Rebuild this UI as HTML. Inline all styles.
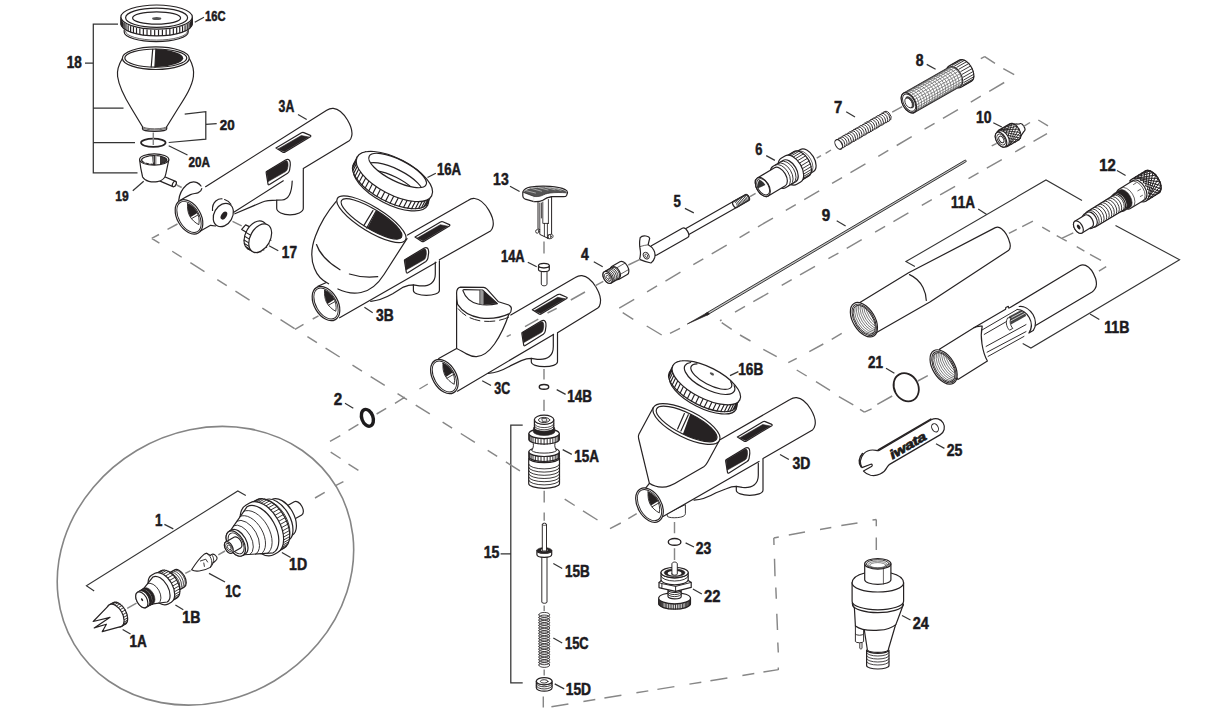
<!DOCTYPE html>
<html lang="en"><head><meta charset="utf-8"><title>Airbrush parts diagram</title>
<style>
html,body{margin:0;padding:0;background:#fff;}
body{width:1214px;height:720px;overflow:hidden;}
svg{display:block;}
text{font-family:"Liberation Sans",sans-serif;font-weight:bold;font-size:15.7px;fill:#1c1a20;stroke:#1c1a20;stroke-width:0.5px;stroke-linejoin:round;}
.l{fill:none;stroke:#262223;stroke-width:1.2;stroke-linecap:round;stroke-linejoin:round;}
.w{fill:#fff;stroke:#262223;stroke-width:1.2;stroke-linecap:round;stroke-linejoin:round;}
.t{fill:none;stroke:#262223;stroke-width:0.7;stroke-linecap:round;stroke-linejoin:round;}
.k{fill:#262223;stroke:#262223;stroke-width:0.6;stroke-linejoin:round;}
.kk{fill:#262223;stroke:none;}
.b{fill:none;stroke:#333;stroke-width:1.25;stroke-linecap:butt;stroke-linejoin:miter;}
.ld{fill:none;stroke:#333;stroke-width:1.2;stroke-linecap:butt;}
.d{fill:none;stroke:#878787;stroke-width:1.45;stroke-linecap:butt;}
.c{fill:none;stroke:#858585;stroke-width:1.6;}
</style></head>
<body>
<svg width="1214" height="720" viewBox="0 0 1214 720">
<rect width="1214" height="720" fill="#fff"/>
<g id="p16c">
<path class="w" d="M124.2,30 L124.2,32 A32,9.6 0 0 0 188.2,32 L188.2,30"/>
<path class="t" d="M125.5,31.5 A31,8.6 0 0 0 187.5,31.5"/>
<path class="w" d="M120.9,17.3 L120.9,23.8 A35.7,12.1 0 0 0 192.3,23.8 L192.3,17.3 Z"/>
<path class="l" d="M192.1,19.46L192.1,24.66M191.49,20.76L191.49,25.96M190.47,22.03L190.47,27.23M189.04,23.25L189.04,28.45M187.24,24.41L187.24,29.61M185.07,25.5L185.07,30.7M182.57,26.5L182.57,31.7M179.76,27.41L179.76,32.61M176.68,28.21L176.68,33.41M173.36,28.88L173.36,34.08M169.84,29.44L169.84,34.64M166.17,29.86L166.17,35.06M162.39,30.14L162.39,35.34M158.54,30.28L158.54,35.48M154.66,30.28L154.66,35.48M150.81,30.14L150.81,35.34M147.03,29.86L147.03,35.06M143.36,29.44L143.36,34.64M139.84,28.88L139.84,34.08M136.52,28.21L136.52,33.41M133.44,27.41L133.44,32.61M130.63,26.5L130.63,31.7M128.13,25.5L128.13,30.7M125.96,24.41L125.96,29.61M124.16,23.25L124.16,28.45M122.73,22.03L122.73,27.23M121.71,20.76L121.71,25.96M121.1,19.46L121.1,24.66"/>
<ellipse class="w" cx="156.6" cy="17.1" rx="35.7" ry="12.1"/>
<ellipse class="l" cx="156.6" cy="17.7" rx="31" ry="9.6"/>
<ellipse class="l" cx="156.6" cy="18" rx="24" ry="6.1"/>
<ellipse class="kk" cx="156.7" cy="18.4" rx="4.6" ry="1.5" style="fill:#555"/>
</g>
<g id="p18">
<path class="w" d="M122.5,58.2 C119,64 116.6,70 117.6,76.5 C119,87 125,98 131.5,108.5 L142.5,126.7 L142.5,129 A12.1,2.3 0 0 0 166.7,129 L166.7,126.7 L178,108.5 C185,97.5 192,87 193.4,76.5 C194.3,70 192.5,64 189.2,58.2"/>
<path class="t" d="M142.5,126.7 A12.1,2.1 0 0 0 166.7,126.7"/>
<path class="t" d="M142.6,128 A12.1,2.2 0 0 0 166.6,128"/>
<ellipse class="w" cx="155.8" cy="58.2" rx="33.4" ry="11.3"/>
<path class="kk" d="M155.9,49.1 A31,9.1 0 0 1 154.9,67.2 Z"/>
<ellipse class="l" cx="155.8" cy="58.1" rx="31" ry="9.1"/>
<line class="l" x1="152.7" y1="49.3" x2="151.2" y2="67"/>
<line class="l" x1="155.9" y1="49.1" x2="154.9" y2="67.2"/>
</g>
<ellipse class="l" cx="153.3" cy="142.8" rx="12.3" ry="4.1" style="stroke-width:1.7"/>
<g id="p19">
<path class="w" d="M162.2,175.8 L175.6,181.4 A1.7,2.9 28 0 1 173,186.6 L159.5,180.9 Z"/>
<ellipse class="w" cx="174.3" cy="184" rx="1.7" ry="2.9" transform="rotate(28 174.3 184)"/>
<path class="w" d="M139.6,159.8 C140.2,166 141.4,172 142.6,177 C145,181.5 152,182.6 157.5,181.6 C162.5,180.6 165.3,177.5 165.8,174 L168.8,159.8"/>
<ellipse class="w" cx="154.2" cy="159.5" rx="14.6" ry="5.6"/>
<path class="kk" d="M152.01,155.77 A12.6,4.3 0 1 1 153.1,164.28 Z" style="fill:#3a3637"/>
<ellipse class="l" cx="154.2" cy="160" rx="12.6" ry="4.3"/>
<path class="t" d="M145,163 L145.6,160.5 M150,157 L150,163.8 M156,156 L156,164" style="stroke:#fff;stroke-width:1"/>
<path class="kk" d="M156.5,156.2 L156.5,164.2 L160,164 L160,156.4 Z" style="fill:#fff"/>
</g>
<path class="b" d="M118,24 L93.3,24 L93.3,172.8 L137.5,172.8 M93.3,108 L123.5,108 M93.3,142.5 L135,142.5 M85,63 L93.3,63"/>
<path class="b" d="M184.7,114.2 L205.8,111.7 L205.8,139.2 L168.7,142.5 M205.8,124.4 L216.7,123.6"/>
<g id="p3a">
<path class="w" d="M303.3,166 L303.3,208.3 C303.3,212 297,214.8 290,214.8 C283,214.8 276.7,212 276.7,208.3 L276.7,196 L283,178 Z" style="stroke:none"/>
<path class="l" d="M303.3,168.6 L303.3,208.3 C303.3,212 297,214.8 290,214.8 C283,214.8 276.7,212 276.7,208.3 L276.7,200.2"/>
<path class="w" d="M205.6,186.7 L326.7,110.3 C329,108.8 331,108.2 333.3,108.4 C338,108.8 343.5,113.5 347.5,120 C351,126 352.6,132 351.7,136 C351.2,138.5 350.3,140 349.2,140.8 L304.2,168.3 L283.3,180.8 L234,211.7 L202,232 L180,203 L186,186 L198,181 Z" style="stroke:none"/>
<path class="l" d="M205.6,186.7 L326.7,110.3 C329,108.8 331,108.2 333.3,108.4 C338,108.8 343.5,113.5 347.5,120 C351,126 352.6,132 351.7,136 C351.2,138.5 350.3,140 349.2,140.8 L303.3,168.6"/>
<path class="l" d="M234.8,213.8 L262,202.2 C266,200.6 270,200.2 276.7,200.2 L282,200 C288.5,199.6 291.8,193 292.2,181"/>
<g transform="translate(0 0)">
<path class="w" d="M276,147.9 L301.5,132.8 Q302.6,132.2 303.8,132.6 L310.4,135.4 Q311.4,136 310.4,136.7 L284.8,152.2 Q283.8,152.8 282.8,152.2 Z"/>
<path class="k" d="M278.2,148.9 L301.3,135.5 L308.8,137 L284.3,151.7 Z"/>
</g>
<g transform="translate(0 0)">
<path class="w" d="M266.5,171.5 L285.5,160 Q288,158.6 289.5,160.3 Q290.6,162 290.3,165 L289.6,170 Q289.3,172 287.6,173.2 L269.5,184.6 Q268.3,185.3 268,184 L266.2,173 Q266,172 266.5,171.5 Z"/>
<path class="k" d="M266.7,171.6 L285,161 Q287,160 287.7,162 Q288.2,164 288,166 L287.4,169 Q287,170.8 285.6,171.6 L267.8,181.8 Z"/>
</g>
<g transform="translate(189 216.9)">
<ellipse class="w" cx="0" cy="0" rx="18.6" ry="11.8" transform="rotate(60 0 0)"/>
<ellipse class="l" cx="0" cy="0" rx="16.9" ry="10.1" transform="rotate(60 0 0)" style="stroke-width:0.9"/>
<path class="w" d="M-1.4,-13.2 C1.5,-12.6 5,-9.6 7.4,-5.8 C9.6,-2 10.8,2.8 9.8,7.8 C6,5.8 2.6,2.6 0.6,-1 C-1.2,-4.6 -1.8,-9 -1.4,-13.2 Z" style="stroke-width:0.9"/>
<path class="kk" d="M-1.4,-13.2 C1.5,-12.6 5,-9.6 7.4,-5.8 L8.4,-3.9 L1.5,0.4 C-0.6,-3.6 -1.8,-8.5 -1.4,-13.2 Z"/>
<path class="t" d="M2.6,1.7 L8.9,-1.9" style="stroke-width:0.9"/>
</g>
<path class="l" d="M178.7,200.6 C179.3,194.5 182,189 186.5,185 C189.8,182 193.5,181 197,182.6 C198.8,183.5 200.2,184.8 201,186"/>
<path class="l" d="M180.8,200 C184,198 187.5,196 190.5,194.6 C193.5,193.4 196.3,193.6 198.3,192.6 C200.5,191.4 201.6,190 201.8,188.6"/>
<path class="l" d="M212.5,210.5 C212.2,206.5 213.2,203.3 215.8,201 C218,199.2 220,198.6 222,198.8"/>
<path class="l" d="M224.6,199.5 C227.3,200.4 229.5,202 230.9,204.3"/>
<ellipse class="w" cx="223.3" cy="215" rx="12.4" ry="9.2" transform="rotate(-60 223.3 215)"/>
<ellipse class="kk" cx="223.9" cy="215.6" rx="4.4" ry="2.7" transform="rotate(-58 223.9 215.6)"/>
<path class="l" d="M200.5,231 L210.6,225.3 L215.5,226"/>
<path class="l" d="M233.8,212.2 L283.3,180.8"/>
</g>
<g id="p17">
<path class="w" d="M241.7,229.4 L245.6,224.9 L251.5,227.6 L248.5,233.6 Z"/>
<ellipse class="w" cx="255.6" cy="235.3" rx="15.6" ry="10" transform="rotate(-61 255.6 235.3)"/>
<path class="t" d="M265.73,237.21l5.2,3.1M263.89,240.93l5.2,3.1M261.47,244.26l5.2,3.1M258.62,246.95l5.2,3.1M255.56,248.81l5.2,3.1M252.51,249.71l5.2,3.1M249.67,249.58l5.2,3.1M247.26,248.43l5.2,3.1M245.44,246.36l5.2,3.1M244.34,243.49l5.2,3.1M244.05,240.04l5.2,3.1M244.57,236.25l5.2,3.1M245.89,232.4l5.2,3.1" style="stroke-width:1.05"/>
<ellipse class="w" cx="260.2" cy="238.2" rx="15.4" ry="9.9" transform="rotate(-61 260.2 238.2)"/>
</g>
<g id="p16a">
<ellipse class="w" cx="391" cy="186.2" rx="41.37" ry="17.73" transform="rotate(27.5 391 186.2)"/>
<ellipse class="w" cx="390.7" cy="183.6" rx="42" ry="18" transform="rotate(27.5 390.7 183.6)"/>
<path class="t" d="M429.65,198.37l-3.7,7.1M427.65,199.69l-3.7,7.1M425.18,200.67l-3.7,7.1M422.28,201.31l-3.7,7.1M418.98,201.6l-3.7,7.1M415.33,201.54l-3.7,7.1M411.39,201.11l-3.7,7.1M407.2,200.34l-3.7,7.1M402.83,199.23l-3.7,7.1M398.34,197.79l-3.7,7.1M393.79,196.06l-3.7,7.1M389.26,194.04l-3.7,7.1M384.79,191.78l-3.7,7.1M380.47,189.3l-3.7,7.1M376.34,186.64l-3.7,7.1M372.46,183.83l-3.7,7.1M368.9,180.92l-3.7,7.1M365.7,177.94l-3.7,7.1M362.91,174.95l-3.7,7.1M360.57,171.98l-3.7,7.1M358.71,169.07l-3.7,7.1M357.35,166.27l-3.7,7.1M356.52,163.61l-3.7,7.1M356.23,161.14l-3.7,7.1M356.48,158.88l-3.7,7.1M357.27,156.88l-3.7,7.1M358.59,155.15l-3.7,7.1M360.41,153.73l-3.7,7.1M362.72,152.63l-3.7,7.1M365.48,151.87l-3.7,7.1M368.65,151.46l-3.7,7.1" style="stroke-width:1.15"/>
<ellipse class="w" cx="394.4" cy="176.5" rx="42" ry="18" transform="rotate(27.5 394.4 176.5)"/>
<clipPath id="c16a"><ellipse cx="397.6" cy="170.5" rx="31.8" ry="10.8" transform="rotate(26.6 397.6 170.5)"/></clipPath>
<g clip-path="url(#c16a)">
<ellipse class="l" cx="394.4" cy="179.6" rx="31.4" ry="10.6" transform="rotate(26.6 394.4 179.6)"/>
<ellipse class="l" cx="391.6" cy="186.2" rx="29.5" ry="10" transform="rotate(26.6 391.6 186.2)"/>
</g>
<ellipse class="l" cx="397.6" cy="170.5" rx="31.8" ry="10.8" transform="rotate(26.6 397.6 170.5)"/>
</g>
<g id="p3b">
<path class="w" d="M439.4,257.8 L439.4,290.4 C439.4,293.4 433.4,295.4 426.4,295.4 C419.4,295.4 413.4,293.4 413.4,290.4 L413.4,278.8 L431.3,260 Z" style="stroke:none"/>
<path class="l" d="M439.4,260.8 L439.4,290.4 C439.4,293.4 433.4,295.4 426.4,295.4 C419.4,295.4 413.4,293.4 413.4,290.4 L413.4,284.8"/>
<path class="w" d="M407.5,235 L468,200.4 C470.3,198.9 472.3,198.3 474.6,198.5 C479.3,198.9 484.8,203.6 488.8,210.1 C492.3,216.1 493.9,222.1 493,226.1 C492.5,228.6 491.6,230.1 490.5,230.9  L439.4,259.8 L339.6,317.3 L312,300 L320,284 Z" style="stroke:none"/>
<path class="l" d="M407.5,235 L468,200.4 C470.3,198.9 472.3,198.3 474.6,198.5 C479.3,198.9 484.8,203.6 488.8,210.1 C492.3,216.1 493.9,222.1 493,226.1 C492.5,228.6 491.6,230.1 490.5,230.9  L439.4,259.8"/>
<path class="l" d="M339.6,317.8 L436,262.4"/>
<path class="l" d="M370.7,301.3 C378.7,300.8 384.7,298.3 392.7,293.8 L403.4,287.1 C407.4,285.4 410.4,284.8 413.4,284.8 L419.4,285.8 C430.3,286.8 435.3,281.8 435.3,274 L435.3,262"/>
<g transform="translate(139 89.2)">
<path class="w" d="M276,147.9 L301.5,132.8 Q302.6,132.2 303.8,132.6 L310.4,135.4 Q311.4,136 310.4,136.7 L284.8,152.2 Q283.8,152.8 282.8,152.2 Z"/>
<path class="k" d="M278.2,148.9 L301.3,135.5 L308.8,137 L284.3,151.7 Z"/>
</g>
<g transform="translate(138.3 88.2)">
<path class="w" d="M266.5,171.5 L285.5,160 Q288,158.6 289.5,160.3 Q290.6,162 290.3,165 L289.6,170 Q289.3,172 287.6,173.2 L269.5,184.6 Q268.3,185.3 268,184 L266.2,173 Q266,172 266.5,171.5 Z"/>
<path class="k" d="M266.7,171.6 L285,161 Q287,160 287.7,162 Q288.2,164 288,166 L287.4,169 Q287,170.8 285.6,171.6 L267.8,181.8 Z"/>
</g>
<path class="w" d="M336,201.7 C328,211 320,224 315.5,236 C311,248 310.5,259 314.5,268.5 C317,275 322,280.5 328.6,283.8 L317.7,286.2 L330,300 L337.9,289 C345,292.5 353,294 361,292.5 C370,290.8 378,284 384,274.5 L407,238.6 Z" style="stroke:none"/>
<path class="l" d="M336,201.7 C328,211 320,224 315.5,236 C311,248 310.5,259 314.5,268.5 C317,275 322,280.5 328.6,283.8"/>
<path class="l" d="M317.9,286.3 L325.8,282.7"/>
<path class="l" d="M337.9,289 C345,292.5 353,294 361,292.5 C370,290.8 378,284 384,274.5 L407,238.6"/>
<path class="l" d="M316.5,244.5 C319,252 327,262 340,269.8 M349.4,274 C358,276.8 368,277.6 377.7,276.6"/>
<ellipse class="w" cx="371.4" cy="219.2" rx="39.9" ry="12.3" transform="rotate(31.5 371.4 219.2)"/>
<path class="kk" d="M376.62,210.54 A35.2,9.8 31.5 0 1 367.43,227.89 Z"/>
<ellipse class="l" cx="371.5" cy="218.9" rx="35.2" ry="9.8" transform="rotate(31.5 371.5 218.9)"/>
<path class="l" d="M375.8,211.6 L366.7,228 M372.9,210.6 L363.8,225.6"/>
<g transform="translate(326 303.5)">
<ellipse class="w" cx="0" cy="0" rx="18.6" ry="11.8" transform="rotate(60 0 0)"/>
<ellipse class="l" cx="0" cy="0" rx="16.9" ry="10.1" transform="rotate(60 0 0)" style="stroke-width:0.9"/>
<path class="w" d="M-1.4,-13.2 C1.5,-12.6 5,-9.6 7.4,-5.8 C9.6,-2 10.8,2.8 9.8,7.8 C6,5.8 2.6,2.6 0.6,-1 C-1.2,-4.6 -1.8,-9 -1.4,-13.2 Z" style="stroke-width:0.9"/>
<path class="kk" d="M-1.4,-13.2 C1.5,-12.6 5,-9.6 7.4,-5.8 L8.4,-3.9 L1.5,0.4 C-0.6,-3.6 -1.8,-8.5 -1.4,-13.2 Z"/>
<path class="t" d="M2.6,1.7 L8.9,-1.9" style="stroke-width:0.9"/>
</g>
</g>
<g id="p3c">
<path class="w" d="M557.5,329.4 L557.5,361.7 C557.5,364.7 551.5,366.7 544.4,366.7 C537.3,366.7 531.3,364.7 531.3,361.7 L531.3,352.3 L549.3,332 Z" style="stroke:none"/>
<path class="l" d="M557.5,332.4 L557.5,361.7 C557.5,364.7 551.5,366.7 544.4,366.7 C537.3,366.7 531.3,364.7 531.3,361.7 L531.3,358.3"/>
<path class="w" d="M500,320 L510.8,315 L575.3,277.6 C577.6,276.1 579.6,275.5 581.9,275.7 C586.6,276.1 592.1,280.8 596.1,287.3 C599.6,293.3 601.2,299.3 600.3,303.3 C599.8,305.8 598.9,307.3 597.8,308.1  L557.5,332.8 L458.4,390.9 L430,372 L440,356 Z" style="stroke:none"/>
<path class="l" d="M510.8,315 L575.3,277.6 C577.6,276.1 579.6,275.5 581.9,275.7 C586.6,276.1 592.1,280.8 596.1,287.3 C599.6,293.3 601.2,299.3 600.3,303.3 C599.8,305.8 598.9,307.3 597.8,308.1  L557.5,332.8"/>
<path class="l" d="M457.4,391.2 L553.5,334.4"/>
<path class="l" d="M488.2,373.4 C496.2,372.9 502.2,370.4 510.2,365.9 L521.3,360.6 C525.3,358.9 528.3,358.3 531.3,358.3 L537.3,359.3 C548.3,360.3 553.3,355.3 553.3,346.4 L553.3,334.4"/>
<g transform="translate(256.3 161.8)">
<path class="w" d="M276,147.9 L301.5,132.8 Q302.6,132.2 303.8,132.6 L310.4,135.4 Q311.4,136 310.4,136.7 L284.8,152.2 Q283.8,152.8 282.8,152.2 Z"/>
<path class="k" d="M278.2,148.9 L301.3,135.5 L308.8,137 L284.3,151.7 Z"/>
</g>
<g transform="translate(255.7 161)">
<path class="w" d="M266.5,171.5 L285.5,160 Q288,158.6 289.5,160.3 Q290.6,162 290.3,165 L289.6,170 Q289.3,172 287.6,173.2 L269.5,184.6 Q268.3,185.3 268,184 L266.2,173 Q266,172 266.5,171.5 Z"/>
<path class="k" d="M266.7,171.6 L285,161 Q287,160 287.7,162 Q288.2,164 288,166 L287.4,169 Q287,170.8 285.6,171.6 L267.8,181.8 Z"/>
</g>
<path class="w" d="M456.6,293.5 L456.6,348.5 L438.5,358.6 L452,372 L466.5,353.9 C470,355.8 473,356.8 476.5,356.6 C483,356.2 489.5,351 494.5,344 C500,336 505,326 508.9,314 L508,300 L484,287 L460,287 Z" style="stroke:none"/>
<path class="l" d="M456.6,296 L456.6,348.5 L438.7,358.5"/>
<path class="l" d="M456.6,348.5 C460,350 463,352.2 466.5,353.9 C470,355.8 473,356.8 476.5,356.6 C483,356.2 489.5,351 494.5,344 C500,336 505,326 508.9,314"/>
<path class="l" d="M458,308.5 C463,314.8 470,319 480,320.8 C490,322.4 500.5,321 509,317" style="stroke-dasharray:11 4;stroke-width:1;stroke-linecap:butt"/>
<path class="w" d="M456.6,293.5 C456.5,290 458,287.6 460.5,287.1 L483.5,287.4 C485,287.5 486,288.2 487,289.2 L498.5,301.8 L508,304.8 C510.5,305.6 511.6,307.3 511.3,309.2 C511.2,311.5 510.6,312.8 509.5,313.6 C500,318 490,319.4 480,317.8 C470,316 462,311 457.6,304.3 C456.8,301 456.6,297 456.6,293.5 Z"/>
<path class="w" d="M462.9,290.6 C462.9,289.9 463.3,289.7 464,289.7 L482.5,290 L497.4,303.6 C491,305.2 484,305.4 478,304 C471,302.3 465.5,298 462.9,290.6 Z"/>
<path class="k" d="M483.4,290.8 L497.2,303.5 L483.4,304.6 Z"/>
<path class="kk" d="M479.8,290.3 L479.8,304.2 L483.4,304.6 L483.4,290.8 Z" style="fill:#9a9a9a"/>
<path class="t" d="M479.8,290.3 L479.8,304.2"/>
<g transform="translate(444.4 376.5)">
<ellipse class="w" cx="0" cy="0" rx="18.6" ry="11.8" transform="rotate(60 0 0)"/>
<ellipse class="l" cx="0" cy="0" rx="16.9" ry="10.1" transform="rotate(60 0 0)" style="stroke-width:0.9"/>
<path class="w" d="M-1.4,-13.2 C1.5,-12.6 5,-9.6 7.4,-5.8 C9.6,-2 10.8,2.8 9.8,7.8 C6,5.8 2.6,2.6 0.6,-1 C-1.2,-4.6 -1.8,-9 -1.4,-13.2 Z" style="stroke-width:0.9"/>
<path class="kk" d="M-1.4,-13.2 C1.5,-12.6 5,-9.6 7.4,-5.8 L8.4,-3.9 L1.5,0.4 C-0.6,-3.6 -1.8,-8.5 -1.4,-13.2 Z"/>
<path class="t" d="M2.6,1.7 L8.9,-1.9" style="stroke-width:0.9"/>
</g>
</g>
<g id="p16b">
<ellipse class="w" cx="703.2" cy="392.3" rx="37.04" ry="15.37" transform="rotate(27 703.2 392.3)"/>
<ellipse class="w" cx="702.9" cy="389.7" rx="37.6" ry="15.6" transform="rotate(27 702.9 389.7)"/>
<path class="t" d="M738.06,402.02l-3.4,6.9M736.17,403.23l-3.4,6.9M733.8,404.11l-3.4,6.9M730.97,404.64l-3.4,6.9M727.75,404.81l-3.4,6.9M724.17,404.63l-3.4,6.9M720.3,404.09l-3.4,6.9M716.2,403.2l-3.4,6.9M711.95,401.98l-3.4,6.9M707.6,400.44l-3.4,6.9M703.23,398.62l-3.4,6.9M698.9,396.54l-3.4,6.9M694.7,394.24l-3.4,6.9M690.69,391.75l-3.4,6.9M686.94,389.11l-3.4,6.9M683.5,386.37l-3.4,6.9M680.43,383.57l-3.4,6.9M677.78,380.76l-3.4,6.9M675.6,377.99l-3.4,6.9M673.91,375.29l-3.4,6.9M672.76,372.71l-3.4,6.9M672.15,370.3l-3.4,6.9M672.1,368.09l-3.4,6.9M672.61,366.13l-3.4,6.9M673.67,364.43l-3.4,6.9M675.26,363.03l-3.4,6.9M677.35,361.96l-3.4,6.9M679.92,361.23l-3.4,6.9M682.92,360.84l-3.4,6.9" style="stroke-width:1.15"/>
<ellipse class="w" cx="706.3" cy="382.8" rx="37.6" ry="15.6" transform="rotate(27 706.3 382.8)"/>
<path class="l" d="M734.2,385.62 A27.8,11.2 27 1 1 690.69,362.48"/>
<path class="l" d="M730.69,381.65 A22.6,8.6 27 1 1 697.04,363.8"/>
<ellipse class="kk" cx="711.9" cy="373.9" rx="2.3" ry="1.2" transform="rotate(27 711.9 373.9)" style="fill:#555"/>
</g>
<g id="p3d">
<path class="w" d="M666.8,514 L667.6,516.6 C669,517.6 673,518 677.5,517.6 C682,517.2 685.2,516 685.4,513.6 L685.4,505 Z" style="stroke-width:0.9"/>
<path class="w" d="M763,456.2 L763,490.3 C763,493.3 757,495.3 749.65,495.3 C742.3,495.3 736.3,493.3 736.3,490.3 L736.3,480.4 L754.3,461.3 Z" style="stroke:none"/>
<path class="l" d="M763,459.2 L763,490.3 C763,493.3 757,495.3 749.65,495.3 C742.3,495.3 736.3,493.3 736.3,490.3 L736.3,486.4"/>
<path class="w" d="M718.3,440.8 L790,399.5 C792.3,398 794.3,397.4 796.6,397.6 C801.3,398 806.8,402.7 810.8,409.2 C814.3,415.2 815.9,421.2 815,425.2 C814.5,427.7 813.6,429.2 812.5,430  L763,458.6 L663,516.3 L635,500 L644,486 Z" style="stroke:none"/>
<path class="l" d="M718.3,440.8 L790,399.5 C792.3,398 794.3,397.4 796.6,397.6 C801.3,398 806.8,402.7 810.8,409.2 C814.3,415.2 815.9,421.2 815,425.2 C814.5,427.7 813.6,429.2 812.5,430  L763,458.6"/>
<path class="l" d="M663,516.6 L759,461.4"/>
<path class="l" d="M694.1,500.2 C702.1,499.7 708.1,497.2 716.1,492.7 L726.3,488.7 C730.3,487 733.3,486.4 736.3,486.4 L742.3,487.4 C753.3,488.4 758.3,483.4 758.3,475.3 L758.3,463.3"/>
<g transform="translate(461.4 289)">
<path class="w" d="M276,147.9 L301.5,132.8 Q302.6,132.2 303.8,132.6 L310.4,135.4 Q311.4,136 310.4,136.7 L284.8,152.2 Q283.8,152.8 282.8,152.2 Z"/>
<path class="k" d="M278.2,148.9 L301.3,135.5 L308.8,137 L284.3,151.7 Z"/>
</g>
<g transform="translate(459.5 288.3)">
<path class="w" d="M266.5,171.5 L285.5,160 Q288,158.6 289.5,160.3 Q290.6,162 290.3,165 L289.6,170 Q289.3,172 287.6,173.2 L269.5,184.6 Q268.3,185.3 268,184 L266.2,173 Q266,172 266.5,171.5 Z"/>
<path class="k" d="M266.7,171.6 L285,161 Q287,160 287.7,162 Q288.2,164 288,166 L287.4,169 Q287,170.8 285.6,171.6 L267.8,181.8 Z"/>
</g>
<path class="w" d="M653.3,407.5 L638.9,434.2 C638.2,435.6 638.2,437 638.6,438.5 L649.4,483.3 L645.5,488.3 L655,500 L662,487.2 C668,487.6 673,485 678.6,481.3 L703.8,466.8 C705.5,465.6 706.6,464 707.5,462.3 L719.4,440.5 Z" style="stroke:none"/>
<path class="l" d="M653.3,407.5 L638.9,434.2 C638.2,435.6 638.2,437 638.6,438.5 L649.4,483.3"/>
<path class="l" d="M645.6,488.2 L649.4,483.3 C653,485.8 657.5,487 662,487.2 C668,487.4 673,485 678.6,481.3 L703.8,466.8 C705.5,465.6 706.6,464 707.5,462.3 L719.2,440.8"/>
<ellipse class="w" cx="686.4" cy="424" rx="36.9" ry="13.4" transform="rotate(26.6 686.4 424)"/>
<path class="kk" d="M690.29,414 A33.6,10.6 26.6 0 1 682.91,434 Z"/>
<ellipse class="l" cx="686.6" cy="424" rx="33.6" ry="10.6" transform="rotate(26.6 686.6 424)"/>
<path class="l" d="M688.3,414.7 L680.9,431 M684.4,413.6 L677.6,429"/>
<g transform="translate(649.5 505.1)">
<ellipse class="w" cx="0" cy="0" rx="18.6" ry="11.8" transform="rotate(60 0 0)"/>
<ellipse class="l" cx="0" cy="0" rx="16.9" ry="10.1" transform="rotate(60 0 0)" style="stroke-width:0.9"/>
<path class="w" d="M-1.4,-13.2 C1.5,-12.6 5,-9.6 7.4,-5.8 C9.6,-2 10.8,2.8 9.8,7.8 C6,5.8 2.6,2.6 0.6,-1 C-1.2,-4.6 -1.8,-9 -1.4,-13.2 Z" style="stroke-width:0.9"/>
<path class="kk" d="M-1.4,-13.2 C1.5,-12.6 5,-9.6 7.4,-5.8 L8.4,-3.9 L1.5,0.4 C-0.6,-3.6 -1.8,-8.5 -1.4,-13.2 Z"/>
<path class="t" d="M2.6,1.7 L8.9,-1.9" style="stroke-width:0.9"/>
</g>
</g>
<g id="p12">
<path class="w" d="M1145.73,201.19 L1158.52,193.35 A13,7.54 58.5 0 0 1144.93,171.18 L1132.14,179.02 A13,7.54 58.5 0 0 1145.73,201.19 Z"/>
<path class="t" d="M1155.43,195.24L1160.17,191.59M1152.34,197.14L1161,188.92M1149.25,199.03L1160.92,185.59M1146.16,200.93L1159.94,181.94M1147.81,199.17L1158.16,178.33M1147.81,199.17L1149.25,199.03M1148.64,196.49L1155.74,175.09M1148.64,196.49L1152.34,197.14M1148.56,193.17L1152.94,172.56M1148.56,193.17L1155.43,195.24M1147.58,189.52L1150.01,170.98M1147.58,189.52L1158.52,193.35M1145.79,185.9L1147.25,170.51M1145.79,185.9L1160.17,191.59M1143.38,182.67L1144.93,171.18M1143.38,182.67L1161,188.92M1140.57,180.14L1141.84,173.07M1140.57,180.14L1160.92,185.59M1137.65,178.56L1138.75,174.97M1137.65,178.56L1159.94,181.94M1134.89,178.08L1135.66,176.86M1134.89,178.08L1158.16,178.33M1132.57,178.76L1155.74,175.09M1135.66,176.86L1152.94,172.56M1138.75,174.97L1150.01,170.98M1141.84,173.07L1147.25,170.51" style="stroke-width:1"/>
<path class="l" d="M1158.52,193.35 A13,7.54 58.5 0 0 1144.93,171.18"/>
<path class="w" d="M1130.29,208.53 L1144.79,199.65 A11.2,6.5 58.5 0 0 1133.09,180.55 L1118.59,189.44 A11.2,6.5 58.5 0 0 1130.29,208.53 Z"/>
<path class="t" d="M1143.08,200.7 A11.2,6.5 58.5 0 0 1131.38,181.6"/>
<path class="t" d="M1132.85,206.97 A11.2,6.5 58.5 0 0 1121.15,187.87"/>
<path class="t" d="M1133.5,184.5 l2.6,-1.6 M1137.8,190.8 l2.8,-1.6 M1129.5,180.6 l2,-1.2 M1140.3,196.5 l2.2,-1.2"/>
<path class="k" d="M1124.23,211.08 L1130.2,207.42 A10.2,5.92 58.5 0 0 1119.54,190.03 L1113.57,193.68 A10.2,5.92 58.5 0 0 1124.23,211.08 Z"/>
<path class="w" d="M1122,211.27 L1125.41,209.18 A9.2,5.34 58.5 0 0 1115.8,193.49 L1112.39,195.58 A9.2,5.34 58.5 0 0 1122,211.27 Z"/>
<path class="w" d="M1095.74,226.78 L1124.03,209.79 A9,5.22 58.5 0 0 1114.62,194.45 L1086.64,211.94 A8.7,5.05 58.5 0 0 1095.74,226.78 Z"/>
<path class="l" d="M1097.55,225.91 A8.9,5.16 58.5 0 0 1088.24,210.73 M1100.06,224.36 A8.9,5.16 58.5 0 0 1090.76,209.19 M1102.58,222.82 A8.9,5.16 58.5 0 0 1093.28,207.65 M1105.09,221.28 A8.9,5.16 58.5 0 0 1095.79,206.1 M1107.61,219.74 A8.9,5.16 58.5 0 0 1098.31,204.56 M1110.12,218.2 A8.9,5.16 58.5 0 0 1100.82,203.02 M1112.64,216.66 A8.9,5.16 58.5 0 0 1103.34,201.48 M1115.15,215.12 A8.9,5.16 58.5 0 0 1105.85,199.94 M1117.67,213.58 A8.9,5.16 58.5 0 0 1108.37,198.4 M1120.18,212.03 A8.9,5.16 58.5 0 0 1110.88,196.86 M1122.7,210.49 A8.9,5.16 58.5 0 0 1113.4,195.32 " style="stroke-width:0.9"/>
<path class="w" d="M1091.96,228.27 L1095.8,225.92 A8,4.64 58.5 0 0 1087.44,212.28 L1083.6,214.63 A8,4.64 58.5 0 0 1091.96,228.27 Z"/>
<path class="w" d="M1082.01,233.08 L1092.24,226.81 A6.9,4 58.5 0 0 1085.03,215.05 L1074.79,221.32 A6.9,4 58.5 0 0 1082.01,233.08 Z"/>
<ellipse class="w" cx="1078.4" cy="227.2" rx="6.9" ry="4" transform="rotate(58.5 1078.4 227.2)"/>
<ellipse class="kk" cx="1078.66" cy="227.04" rx="2.6" ry="1.51" transform="rotate(58.5 1078.66 227.04)"/>
</g>
<g id="p9">
<path class="w" d="M706,313.3 L964.8,160.3 C966,159.8 966.9,161.2 965.8,161.9 L707.2,315 Z" style="stroke-width:0.9;stroke:#222;fill:#c8c8c8"/>
<path class="k" d="M687.3,324 L708,312.2 L709.2,314.2 Z" style="stroke-width:0.7"/>
</g>
<g id="p11a">
<path class="w" d="M859.9,302.6 L908.6,272.8 L995.3,227.6 C997.5,226.6 999.5,227 1001.5,228.8 C1005,231.5 1008.5,237.5 1010,243.5 C1010.6,246.5 1010.2,248.8 1008.8,250.2 L930.3,301.7 L875.2,333.3 Z"/>
<path class="l" d="M909.5,274.6 C915,277 920,281.5 923,287.5 C925,291.5 926.2,296 926.3,300.5"/>
<ellipse class="w" cx="863.9" cy="319.7" rx="19" ry="10.9" transform="rotate(58.7 863.9 319.7)"/>
<ellipse class="l" cx="864.2" cy="319.9" rx="17.5" ry="9.5" transform="rotate(58.7 864.2 319.9)" style="stroke-width:0.9"/>
<clipPath id="tf1"><ellipse cx="864.3" cy="319.9" rx="16.4" ry="8.5" transform="rotate(58.7 864.3 319.9)"/></clipPath>
<g clip-path="url(#tf1)">
<ellipse class="t" cx="865.84" cy="318.97" rx="16.4" ry="8.5" transform="rotate(58.7 865.84 318.97)" style="stroke:#3a3a3a;stroke-width:0.6"/>
<ellipse class="t" cx="867.64" cy="317.89" rx="16.4" ry="8.5" transform="rotate(58.7 867.64 317.89)" style="stroke:#3a3a3a;stroke-width:0.6"/>
<ellipse class="t" cx="869.44" cy="316.81" rx="16.4" ry="8.5" transform="rotate(58.7 869.44 316.81)" style="stroke:#3a3a3a;stroke-width:0.6"/>
<ellipse class="t" cx="871.24" cy="315.73" rx="16.4" ry="8.5" transform="rotate(58.7 871.24 315.73)" style="stroke:#3a3a3a;stroke-width:0.6"/>
<ellipse class="t" cx="873.04" cy="314.65" rx="16.4" ry="8.5" transform="rotate(58.7 873.04 314.65)" style="stroke:#3a3a3a;stroke-width:0.6"/>
<ellipse class="t" cx="874.84" cy="313.57" rx="16.4" ry="8.5" transform="rotate(58.7 874.84 313.57)" style="stroke:#3a3a3a;stroke-width:0.6"/>
<ellipse class="t" cx="876.64" cy="312.48" rx="16.4" ry="8.5" transform="rotate(58.7 876.64 312.48)" style="stroke:#3a3a3a;stroke-width:0.6"/>
<ellipse class="t" cx="878.44" cy="311.4" rx="16.4" ry="8.5" transform="rotate(58.7 878.44 311.4)" style="stroke:#3a3a3a;stroke-width:0.6"/>
<ellipse class="t" cx="880.24" cy="310.32" rx="16.4" ry="8.5" transform="rotate(58.7 880.24 310.32)" style="stroke:#3a3a3a;stroke-width:0.6"/>
</g>
<ellipse class="t" cx="864.3" cy="319.9" rx="16.4" ry="8.5" transform="rotate(58.7 864.3 319.9)" style="stroke-width:0.8"/>
</g>
<g id="p11b">
<path class="w" d="M1008.5,308.5 L1079.5,265.7 C1081.5,264.6 1083.6,264.5 1085.6,265.4 C1089.5,267.2 1093.5,272.5 1095.6,278.5 C1096.8,282.5 1096.6,286.5 1095,288.8 C1094.3,290 1093.3,291.2 1092.1,292 L1034.7,326 L1028,331 L1014,322 Z"/>
<path class="w" d="M982.2,329.9 L1005.6,311.4 L1005.8,308.2 L1008.5,306.6 L1009,308.4 L1019.2,306.5 L1034.7,317.2 L1028.9,332.8 L988.1,356.6 Z" style="stroke:none"/>
<path class="l" d="M982.2,329.9 L1017.2,309.5 M984.2,334.4 L1009.5,319.8 M986.1,346.4 L1026,324.6 M987.1,352.2 L1026,331.6 M988.1,356.4 L1024,336.4" style="stroke-width:0.95"/>
<path class="l" d="M973.5,327.9 L1005.6,309.2 L1005.8,307.5 L1008.3,306.4 L1008.8,308.2"/>
<path class="kk" d="M1009,316.5 L1024.5,308.2 L1026,316 L1011,324.5 Z" style="fill:#444"/>
<path class="t" d="M1010,318.5 L1025,310.6 M1010.6,321 L1025.5,313" style="stroke:#fff;stroke-width:0.7"/>
<path class="w" d="M1007.5,318.2 C1005.5,321.5 1006,326.5 1009.5,330.2 L1012.8,328.4 C1010,325 1009.4,321.2 1011,318 Z" style="stroke-width:0.9"/>
<path class="w" d="M1019.2,306.5 C1024,305.8 1029.5,309 1033,314.5 C1036,319.5 1036.5,326 1033.2,330.6 L1028.9,333 C1032,328.5 1032,322.5 1029.2,317.5 C1026.5,312.8 1022,309.6 1017.2,309.5"/>
<path class="w" d="M939.4,349.3 L973.5,327.9 C976,326.4 979.5,326 982.2,326.2 C981,332 981,338 982,344 C983,350.5 984.8,356.5 987.4,361 L957.9,379.5 Z"/>
<ellipse class="w" cx="943.6" cy="367" rx="19" ry="10.9" transform="rotate(58.7 943.6 367)"/>
<ellipse class="l" cx="943.9" cy="367.2" rx="17.5" ry="9.5" transform="rotate(58.7 943.9 367.2)" style="stroke-width:0.9"/>
<clipPath id="tf2"><ellipse cx="944" cy="367.2" rx="16.4" ry="8.5" transform="rotate(58.7 944 367.2)"/></clipPath>
<g clip-path="url(#tf2)">
<ellipse class="t" cx="945.54" cy="366.27" rx="16.4" ry="8.5" transform="rotate(58.7 945.54 366.27)" style="stroke:#3a3a3a;stroke-width:0.6"/>
<ellipse class="t" cx="947.34" cy="365.19" rx="16.4" ry="8.5" transform="rotate(58.7 947.34 365.19)" style="stroke:#3a3a3a;stroke-width:0.6"/>
<ellipse class="t" cx="949.14" cy="364.11" rx="16.4" ry="8.5" transform="rotate(58.7 949.14 364.11)" style="stroke:#3a3a3a;stroke-width:0.6"/>
<ellipse class="t" cx="950.94" cy="363.03" rx="16.4" ry="8.5" transform="rotate(58.7 950.94 363.03)" style="stroke:#3a3a3a;stroke-width:0.6"/>
<ellipse class="t" cx="952.74" cy="361.95" rx="16.4" ry="8.5" transform="rotate(58.7 952.74 361.95)" style="stroke:#3a3a3a;stroke-width:0.6"/>
<ellipse class="t" cx="954.54" cy="360.87" rx="16.4" ry="8.5" transform="rotate(58.7 954.54 360.87)" style="stroke:#3a3a3a;stroke-width:0.6"/>
<ellipse class="t" cx="956.34" cy="359.78" rx="16.4" ry="8.5" transform="rotate(58.7 956.34 359.78)" style="stroke:#3a3a3a;stroke-width:0.6"/>
<ellipse class="t" cx="958.14" cy="358.7" rx="16.4" ry="8.5" transform="rotate(58.7 958.14 358.7)" style="stroke:#3a3a3a;stroke-width:0.6"/>
<ellipse class="t" cx="959.94" cy="357.62" rx="16.4" ry="8.5" transform="rotate(58.7 959.94 357.62)" style="stroke:#3a3a3a;stroke-width:0.6"/>
</g>
<ellipse class="t" cx="944" cy="367.2" rx="16.4" ry="8.5" transform="rotate(58.7 944 367.2)" style="stroke-width:0.8"/>
</g>
<path class="b" d="M914.9,266.5 L905.9,261.6 L1046,180 L1082,200.5" style="stroke-width:1.1"/>
<path class="b" d="M1115.5,225.6 L1179.6,259.7 L1030.9,348 L1022.7,343.5" style="stroke-width:1.1"/>
<ellipse class="l" cx="906.2" cy="387.3" rx="14.6" ry="12" transform="rotate(62 906.2 387.3)" style="stroke-width:1.8"/>
<g id="p4">
<path class="w" d="M619.09,279.31 L627.32,274.56 A7.4,4.29 60 0 0 619.92,261.74 L611.69,266.49 A7.4,4.29 60 0 0 619.09,279.31 Z"/>
<path class="t" d="M620.46,274.25L628.69,269.5"/>
<path class="t" d="M616.76,267.84L624.99,263.09"/>
<path class="w" d="M610.9,283.12 L619.13,278.37 A6.6,3.83 60 0 0 612.53,266.93 L604.3,271.68 A6.6,3.83 60 0 0 610.9,283.12 Z"/>
<path class="t" d="M612.2,282.37 A6.6,3.83 60 0 0 605.6,270.93 M613.71,281.49 A6.6,3.83 60 0 0 607.11,270.06 M615.23,280.62 A6.6,3.83 60 0 0 608.63,269.18 M616.75,279.74 A6.6,3.83 60 0 0 610.15,268.31 M618.26,278.87 A6.6,3.83 60 0 0 611.66,267.43 " style="stroke-width:0.9"/>
<ellipse class="w" cx="607.6" cy="277.4" rx="6.6" ry="3.83" transform="rotate(60 607.6 277.4)"/>
<ellipse class="l" cx="607.77" cy="277.3" rx="4.4" ry="2.55" transform="rotate(60 607.77 277.3)" style="stroke-width:0.8"/>
<ellipse class="t" cx="607.86" cy="277.25" rx="2.2" ry="1.28" transform="rotate(60 607.86 277.25)"/>
</g>
<g id="p5">
<path class="w" d="M685.34,236.56 L748.82,200.5 A3.4,1.97 60.4 0 0 745.46,194.59 L681.98,230.65 A3.4,1.97 60.4 0 0 685.34,236.56 Z"/>
<path class="w" d="M736.64,207.42 L748.62,200.16 A3,1.74 60.4 0 0 745.65,194.94 L733.28,201.51 A3.4,1.97 60.4 0 0 736.64,207.42 Z"/>
<path class="t" d="M736.59,207.33 A3.3,1.91 60.4 0 0 733.33,201.59 M737.85,206.62 A3.3,1.91 60.4 0 0 734.59,200.88 M739.1,205.91 A3.3,1.91 60.4 0 0 735.84,200.17 M740.36,205.19 A3.3,1.91 60.4 0 0 737.1,199.45 M741.62,204.48 A3.3,1.91 60.4 0 0 738.36,198.74 M742.87,203.77 A3.3,1.91 60.4 0 0 739.61,198.03 M744.13,203.05 A3.3,1.91 60.4 0 0 740.87,197.31 M745.38,202.34 A3.3,1.91 60.4 0 0 742.12,196.6 M746.64,201.62 A3.3,1.91 60.4 0 0 743.38,195.89 M747.9,200.91 A3.3,1.91 60.4 0 0 744.64,195.17 " style="stroke-width:0.9;stroke:#333"/>
<path class="w" d="M656.77,255.1 L687.63,237.56 A5.4,3.13 60.4 0 0 682.3,228.17 L651.43,245.7 A5.4,3.13 60.4 0 0 656.77,255.1 Z"/>
<path class="w" d="M640.2,237.6 C641.5,236 644,235.6 646,236 C648,236.4 649.5,237.2 649.7,238.4 C649.2,240.6 648.4,242.8 648.2,244.8 C650.5,246 652.8,248 654,250.6 C655.2,253 655.2,255.5 654.7,257.5 C654,260 652.8,262 651,263 C647,262.2 643,260.9 639.5,259.4 C640.5,256 640.8,252 640,248.5 C639.4,245 639.5,241 640.2,237.6 Z"/>
<path class="t" d="M640.3,246.5 C643,245.6 646,245 648.2,244.8"/>
<ellipse class="l" cx="646.2" cy="255.6" rx="3.6" ry="2.6" transform="rotate(58 646.2 255.6)" style="stroke-width:0.9"/>
<ellipse class="t" cx="646.3" cy="255.7" rx="1.8" ry="1.3" transform="rotate(58 646.3 255.7)"/>
</g>
<g id="p6">
<path class="w" d="M807.97,174.8 L813.54,171.45 A12.8,7.42 59 0 0 800.35,149.5 L794.78,152.85 A12.8,7.42 59 0 0 807.97,174.8 Z"/>
<path class="t" d="M810.54,173.25 A12.8,7.42 59 0 0 797.35,151.31"/>
<path class="w" d="M800.17,181.23 L808.74,176.08 A14.3,8.29 59 0 0 794.01,151.57 L785.44,156.72 A14.3,8.29 59 0 0 800.17,181.23 Z"/>
<path class="t" d="M801.51,180.26L809.66,175.37M802.63,178.68L810.77,173.79M803.29,176.63L811.43,171.74M803.46,174.19L811.6,169.3M803.14,171.49L811.28,166.59M802.34,168.65L810.49,163.76M801.1,165.82L809.25,160.92M799.49,163.12L807.63,158.23M797.57,160.7L805.71,155.81M795.44,158.66L803.58,153.77M793.2,157.11L801.34,152.22M790.96,156.12L799.11,151.23M788.84,155.74L796.98,150.85M786.93,155.98L795.07,151.09" style="stroke-width:0.9"/>
<path class="w" d="M796.77,184.32 L800.63,182 A15.2,8.82 59 0 0 784.97,155.94 L781.12,158.26 A15.2,8.82 59 0 0 796.77,184.32 Z"/>
<path class="w" d="M785.47,187.84 L795.76,181.66 A12.4,7.19 59 0 0 782.99,160.4 L772.7,166.59 A12.4,7.19 59 0 0 785.47,187.84 Z"/>
<path class="l" d="M788.04,186.3 A12.4,7.19 59 0 0 775.27,165.04 M790.83,184.62 A12.4,7.19 59 0 0 778.06,163.37 M793.62,182.95 A12.4,7.19 59 0 0 780.84,161.69 " style="stroke-width:0.9"/>
<path class="w" d="M768.21,196 L785.35,185.7 A10.5,6.09 59 0 0 774.54,167.7 L757.39,178 A10.5,6.09 59 0 0 768.21,196 Z"/>
<ellipse class="w" cx="762.8" cy="187" rx="10.5" ry="6.09" transform="rotate(59 762.8 187)"/>
<ellipse class="l" cx="763.14" cy="186.79" rx="9" ry="5.22" transform="rotate(59 763.14 186.79)" style="stroke-width:0.9"/>
<path class="kk" d="M759.4,179.6 C761.8,180.6 763.8,182.4 765.4,185 L757.6,188.6 C757,185.5 757.8,182 759.4,179.6 Z" style="fill:#333"/>
</g>
<g id="p7">
<path class="w" d="M841.27,148.98 L889.23,121.06 A5.3,3.07 59.8 0 0 883.9,111.9 L835.93,139.82 A5.3,3.07 59.8 0 0 841.27,148.98 Z" style="stroke:none"/>
<path class="l" d="M840.01,148.89 A5.3,3.07 59.8 1 0 835.39,140.95 M842.15,147.64 A5.3,3.07 59.8 1 0 837.54,139.71 M844.29,146.4 A5.3,3.07 59.8 1 0 839.68,138.46 M846.44,145.15 A5.3,3.07 59.8 1 0 841.82,137.22 M848.58,143.9 A5.3,3.07 59.8 1 0 843.96,135.97 M850.72,142.66 A5.3,3.07 59.8 1 0 846.1,134.72 M852.86,141.41 A5.3,3.07 59.8 1 0 848.24,133.48 M855,140.17 A5.3,3.07 59.8 1 0 850.38,132.23 M857.14,138.92 A5.3,3.07 59.8 1 0 852.52,130.99 M859.28,137.67 A5.3,3.07 59.8 1 0 854.66,129.74 M861.42,136.43 A5.3,3.07 59.8 1 0 856.81,128.49 M863.56,135.18 A5.3,3.07 59.8 1 0 858.95,127.25 M865.71,133.94 A5.3,3.07 59.8 1 0 861.09,126 M867.85,132.69 A5.3,3.07 59.8 1 0 863.23,124.76 M869.99,131.44 A5.3,3.07 59.8 1 0 865.37,123.51 M872.13,130.2 A5.3,3.07 59.8 1 0 867.51,122.26 M874.27,128.95 A5.3,3.07 59.8 1 0 869.65,121.02 M876.41,127.7 A5.3,3.07 59.8 1 0 871.79,119.77 M878.55,126.46 A5.3,3.07 59.8 1 0 873.93,118.52 M880.69,125.21 A5.3,3.07 59.8 1 0 876.07,117.28 M882.83,123.97 A5.3,3.07 59.8 1 0 878.22,116.03 M884.97,122.72 A5.3,3.07 59.8 1 0 880.36,114.79 M887.12,121.47 A5.3,3.07 59.8 1 0 882.5,113.54 " style="stroke-width:0.95"/>
<ellipse class="l" cx="838.6" cy="144.4" rx="5.3" ry="3.07" transform="rotate(59.8 838.6 144.4)" style="stroke-width:0.95"/>
<path class="l" d="M890.85,119.75 A5.3,3.07 59.8 0 0 884.02,112.2" style="stroke-width:0.95"/>
</g>
<g id="p8">
<path class="w" d="M961.01,87.23 L971.44,81.3 A12.2,7.08 60.4 0 0 959.39,60.09 L948.96,66.01 A12.2,7.08 60.4 0 0 961.01,87.23 Z"/>
<path class="t" d="M962.42,86.21L972.42,80.53M963.46,84.57L973.45,78.89M963.97,82.4L973.97,76.72M963.95,79.85L973.94,74.17M963.37,77.07L973.37,71.39M962.28,74.25L972.28,68.57M960.76,71.56L970.76,65.88M958.89,69.19L968.89,63.51M956.8,67.27L966.8,61.59M954.62,65.94L964.62,60.26M952.49,65.27L962.49,59.59M950.55,65.32L960.55,59.64" style="stroke-width:0.9"/>
<path class="w" d="M914.33,112.36 L960.42,86.19 A11,6.38 60.4 0 0 949.55,67.06 L903.47,93.24 A11,6.38 60.4 0 0 914.33,112.36 Z"/>
<path class="t" d="M916.94,110.88 A11,6.38 60.4 0 0 906.08,91.75 M919.6,109.37 A11,6.38 60.4 0 0 908.74,90.24 M922.27,107.86 A11,6.38 60.4 0 0 911.4,88.73 M924.93,106.34 A11,6.38 60.4 0 0 914.06,87.22 M927.59,104.83 A11,6.38 60.4 0 0 916.73,85.7 M930.26,103.32 A11,6.38 60.4 0 0 919.39,84.19 M932.92,101.81 A11,6.38 60.4 0 0 922.05,82.68 M935.58,100.29 A11,6.38 60.4 0 0 924.71,81.16 M938.24,98.78 A11,6.38 60.4 0 0 927.38,79.65 M940.91,97.27 A11,6.38 60.4 0 0 930.04,78.14 M943.57,95.76 A11,6.38 60.4 0 0 932.7,76.63 M946.23,94.24 A11,6.38 60.4 0 0 935.37,75.11 M948.9,92.73 A11,6.38 60.4 0 0 938.03,73.6 M951.56,91.22 A11,6.38 60.4 0 0 940.69,72.09 M954.22,89.7 A11,6.38 60.4 0 0 943.35,70.58 M956.88,88.19 A11,6.38 60.4 0 0 946.02,69.06 M959.55,86.68 A11,6.38 60.4 0 0 948.68,67.55 " style="stroke:#555;stroke-width:0.7"/>
<path class="t" d="M916.38,110.82L961.6,85.14M917.22,109.12L962.43,83.43M917.53,106.93L962.75,81.25M917.3,104.43L962.52,78.74M916.55,101.77L961.76,76.09M915.32,99.15L960.53,73.47M913.7,96.76L958.91,71.07M911.8,94.75L957.02,69.06M909.77,93.27L954.98,67.58M907.73,92.42L952.95,66.73M905.84,92.26L951.05,66.58" style="stroke:#555;stroke-width:0.7;stroke-dasharray:1.8 1.2"/>
<ellipse class="w" cx="908.9" cy="102.8" rx="11" ry="6.38" transform="rotate(60.4 908.9 102.8)"/>
<ellipse class="l" cx="909.16" cy="102.65" rx="9.4" ry="5.45" transform="rotate(60.4 909.16 102.65)" style="stroke-width:0.9"/>
<ellipse class="kk" cx="909.77" cy="102.31" rx="6.6" ry="3.83" transform="rotate(60.4 909.77 102.31)" style="fill:#444"/>
<ellipse class="w" cx="908.64" cy="102.95" rx="5.4" ry="3.13" transform="rotate(60.4 908.64 102.95)" style="stroke-width:0.8"/>
</g>
<g id="p10">
<path class="w" d="M1018.29,139.55 L1023.98,131.41 A4.4,2.55 60 0 0 1019.58,123.79 L1009.69,124.65 A8.6,4.99 60 0 0 1018.29,139.55 Z"/>
<path class="w" d="M1007.77,146.32 L1019.02,139.82 A9.2,5.34 60 0 0 1009.82,123.88 L998.57,130.38 A9.2,5.34 60 0 0 1007.77,146.32 Z"/>
<path class="t" d="M1015.41,141.9L1020.44,138.19M1011.81,143.98L1020.94,135.6M1008.2,146.07L1020.45,132.43M1009.62,144.44L1019.04,129.18M1009.62,144.44L1011.81,143.98M1010.12,141.85L1016.93,126.34M1010.12,141.85L1015.41,141.9M1009.63,138.68L1014.44,124.33M1009.63,138.68L1019.02,139.82M1008.22,135.43L1011.94,123.47M1008.22,135.43L1020.44,138.19M1006.11,132.59L1009.82,123.88M1006.11,132.59L1020.94,135.6M1003.61,130.58L1006.21,125.97M1003.61,130.58L1020.45,132.43M1001.12,129.72L1002.61,128.05M1001.12,129.72L1019.04,129.18M999,130.13L1016.93,126.34M1002.61,128.05L1014.44,124.33M1006.21,125.97L1011.94,123.47" style="stroke-width:0.9"/>
<path class="w" d="M1005.1,146.7 L1007.7,145.2 A8.2,4.76 60 0 0 999.5,131 L996.9,132.5 A8.2,4.76 60 0 0 1005.1,146.7 Z"/>
<ellipse class="w" cx="1001" cy="139.6" rx="8.2" ry="4.76" transform="rotate(60 1001 139.6)"/>
<ellipse class="l" cx="1001.17" cy="139.5" rx="6" ry="3.48" transform="rotate(60 1001.17 139.5)" style="stroke-width:0.9"/>
<ellipse class="l" cx="1001.35" cy="139.4" rx="3.6" ry="2.09" transform="rotate(60 1001.35 139.4)" style="stroke-width:0.9"/>
</g>
<g id="p15a">
<path class="w" d="M528.7,458 L528.7,483.6 A15.4,4.7 0 0 0 559.5,483.6 L559.5,458 A15.4,4.7 0 0 1 528.7,458 Z"/>
<path class="l" d="M528.7,464.2 A15.4,4.7 0 0 0 559.5,464.2" style="stroke-width:0.9"/>
<path class="l" d="M528.7,467.4 A15.4,4.7 0 0 0 559.5,467.4" style="stroke-width:0.9"/>
<path class="l" d="M528.7,470.6 A15.4,4.7 0 0 0 559.5,470.6" style="stroke-width:0.9"/>
<path class="l" d="M528.7,473.8 A15.4,4.7 0 0 0 559.5,473.8" style="stroke-width:0.9"/>
<path class="l" d="M528.7,477 A15.4,4.7 0 0 0 559.5,477" style="stroke-width:0.9"/>
<path class="l" d="M528.7,480.2 A15.4,4.7 0 0 0 559.5,480.2" style="stroke-width:0.9"/>
<path class="w" d="M528.9,451.8 L528.9,456.8 A15.2,4.7 0 0 0 559.3,456.8 L559.3,451.8 A15.2,4.7 0 0 1 528.9,451.8 Z"/>
<path class="t" d="M559.15,453.25L559.15,457.45M558.41,454.19L558.41,458.39M557.07,455.05L557.07,459.25M555.19,455.81L555.19,460.01M552.85,456.44L552.85,460.64M550.14,456.91L550.14,461.11M547.19,457.2L547.19,461.4M544.1,457.3L544.1,461.5M541.01,457.2L541.01,461.4M538.06,456.91L538.06,461.11M535.35,456.44L535.35,460.64M533.01,455.81L533.01,460.01M531.13,455.05L531.13,459.25M529.79,454.19L529.79,458.39M529.05,453.25L529.05,457.45" style="stroke-width:0.95"/>
<ellipse class="w" cx="544.1" cy="451.8" rx="15.2" ry="4.7"/>
<path class="w" d="M532.5,441 C533.9,444.5 533.9,447 531.7,450.6 A13,3.6 0 0 0 556.5,450.6 C554.3,447 554.3,444.5 555.7,441 Z" style="stroke-width:0.95"/>
<path class="w" d="M528.9,433.6 L528.9,439.2 A15.2,5 0 0 0 559.3,439.2 L559.3,433.6 A15.2,5 0 0 1 528.9,433.6 Z"/>
<path class="t" d="M559.15,435.1L559.15,439.9M558.41,436.09L558.41,440.89M557.07,437.01L557.07,441.81M555.19,437.82L555.19,442.62M552.85,438.49L552.85,443.29M550.14,438.99L550.14,443.79M547.19,439.3L547.19,444.1M544.1,439.4L544.1,444.2M541.01,439.3L541.01,444.1M538.06,438.99L538.06,443.79M535.35,438.49L535.35,443.29M533.01,437.82L533.01,442.62M531.13,437.01L531.13,441.81M529.79,436.09L529.79,440.89M529.05,435.1L529.05,439.9" style="stroke-width:0.95"/>
<ellipse class="w" cx="544.1" cy="433.6" rx="15.2" ry="5"/>
<path class="w" d="M534.4,419.8 L534.4,430 A9.7,4 0 0 0 553.8,430 L553.8,419.8 A9.7,4 0 0 1 534.4,419.8 Z"/>
<path class="t" d="M534.4,423.6 A9.7,4 0 0 0 553.8,423.6" style="stroke-width:0.8"/>
<path class="t" d="M534.4,425.8 A9.7,4 0 0 0 553.8,425.8" style="stroke-width:0.8"/>
<path class="t" d="M534.4,428 A9.7,4 0 0 0 553.8,428" style="stroke-width:0.8"/>
<ellipse class="w" cx="544.1" cy="419.8" rx="9.7" ry="4.6"/>
<ellipse class="l" cx="544.1" cy="420" rx="5.6" ry="2.6" style="stroke-width:0.9"/>
<path class="t" d="M542.1,418.6 L546.5,418.6 L546.9,421.2 L542.9,421.4 Z" style="stroke-width:0.8"/>
<path class="k" d="M533.7,427.4 L533.1,431.2 A11,4.3 0 0 0 555.1,431.2 L554.5,427.4 A10.4,3.8 0 0 1 533.7,427.4 Z"/>
</g>
<g id="p15b">
<path class="w" d="M541.8,557 L541.8,602 A2.6,1.3 0 0 0 547,602 L547,557 Z" style="stroke-width:0.95"/>
<path class="w" d="M536.9,550.4 L536.9,554.6 A7.4,2.8 0 0 0 551.7,554.6 L551.7,550.4 A7.4,2.8 0 0 1 536.9,550.4 Z"/>
<ellipse class="k" cx="544.3" cy="550.4" rx="7.4" ry="2.8"/>
<ellipse class="w" cx="544.3" cy="550.2" rx="3.2" ry="1.1" style="stroke:none"/>
<path class="w" d="M542.3,550.6 L542.3,524.4 A2.1,1.2 0 0 1 546.5,524.4 L546.5,550.6 Z" style="stroke-width:0.95"/>
<path class="t" d="M542.3,524.4 A2.1,1 0 0 0 546.5,524.4"/>
</g>
<g id="p15c">
<path class="l" d="M538.7,614.8 A5.5,2.4 0 1 0 549.7,614.8 A5.5,2.4 0 1 0 538.7,614.8M538.7,617.44 A5.5,2.4 0 1 0 549.7,617.44 A5.5,2.4 0 1 0 538.7,617.44M538.7,620.08 A5.5,2.4 0 1 0 549.7,620.08 A5.5,2.4 0 1 0 538.7,620.08M538.7,622.73 A5.5,2.4 0 1 0 549.7,622.73 A5.5,2.4 0 1 0 538.7,622.73M538.7,625.37 A5.5,2.4 0 1 0 549.7,625.37 A5.5,2.4 0 1 0 538.7,625.37M538.7,628.01 A5.5,2.4 0 1 0 549.7,628.01 A5.5,2.4 0 1 0 538.7,628.01M538.7,630.65 A5.5,2.4 0 1 0 549.7,630.65 A5.5,2.4 0 1 0 538.7,630.65M538.7,633.29 A5.5,2.4 0 1 0 549.7,633.29 A5.5,2.4 0 1 0 538.7,633.29M538.7,635.94 A5.5,2.4 0 1 0 549.7,635.94 A5.5,2.4 0 1 0 538.7,635.94M538.7,638.58 A5.5,2.4 0 1 0 549.7,638.58 A5.5,2.4 0 1 0 538.7,638.58M538.7,641.22 A5.5,2.4 0 1 0 549.7,641.22 A5.5,2.4 0 1 0 538.7,641.22M538.7,643.86 A5.5,2.4 0 1 0 549.7,643.86 A5.5,2.4 0 1 0 538.7,643.86M538.7,646.51 A5.5,2.4 0 1 0 549.7,646.51 A5.5,2.4 0 1 0 538.7,646.51M538.7,649.15 A5.5,2.4 0 1 0 549.7,649.15 A5.5,2.4 0 1 0 538.7,649.15M538.7,651.79 A5.5,2.4 0 1 0 549.7,651.79 A5.5,2.4 0 1 0 538.7,651.79M538.7,654.43 A5.5,2.4 0 1 0 549.7,654.43 A5.5,2.4 0 1 0 538.7,654.43M538.7,657.07 A5.5,2.4 0 1 0 549.7,657.07 A5.5,2.4 0 1 0 538.7,657.07M538.7,659.72 A5.5,2.4 0 1 0 549.7,659.72 A5.5,2.4 0 1 0 538.7,659.72M538.7,662.36 A5.5,2.4 0 1 0 549.7,662.36 A5.5,2.4 0 1 0 538.7,662.36M538.7,665 A5.5,2.4 0 1 0 549.7,665 A5.5,2.4 0 1 0 538.7,665" style="stroke-width:0.85"/>
</g>
<g id="p15d">
<path class="w" d="M536.3,681.2 L536.3,687.8 A7.9,3.4 0 0 0 552.1,687.8 L552.1,681.2 A7.9,3.4 0 0 1 536.3,681.2 Z"/>
<path class="t" d="M536.3,683.4 A7.9,3.4 0 0 0 552.1,683.4" style="stroke-width:0.9"/>
<path class="t" d="M536.3,685.6 A7.9,3.4 0 0 0 552.1,685.6" style="stroke-width:0.9"/>
<ellipse class="w" cx="544.2" cy="681.2" rx="7.9" ry="3.6"/>
<ellipse class="l" cx="544.2" cy="681.4" rx="3.8" ry="1.7" style="stroke-width:0.9"/>
</g>
<path class="b" d="M522.7,425 L510.8,425 L510.8,682.8 L522.7,682.8 M500.6,553.9 L510.8,553.9"/>
<ellipse class="l" cx="674.6" cy="541.9" rx="6.3" ry="3.4" style="stroke-width:1.4"/>
<ellipse class="l" cx="544" cy="386.9" rx="4.7" ry="2.3" style="stroke-width:1.5"/>
<g id="p22">
<path class="w" d="M658.7,598.2 L658.7,603.6 A15.9,5.6 0 0 0 690.5,603.6 L690.5,598.2 A15.9,5.6 0 0 1 658.7,598.2 Z"/>
<path class="t" d="M690.35,599.78L690.35,604.38M689.99,600.41L689.99,605.01M689.43,601.02L689.43,605.62M688.68,601.6L688.68,606.2M687.74,602.15L687.74,606.75M686.64,602.66L686.64,607.26M685.37,603.12L685.37,607.72M683.96,603.53L683.96,608.13M682.43,603.87L682.43,608.47M680.8,604.16L680.8,608.76M679.09,604.37L679.09,608.97M677.32,604.52L677.32,609.12M675.51,604.59L675.51,609.19M673.69,604.59L673.69,609.19M671.88,604.52L671.88,609.12M670.11,604.37L670.11,608.97M668.4,604.16L668.4,608.76M666.77,603.87L666.77,608.47M665.24,603.53L665.24,608.13M663.83,603.12L663.83,607.72M662.56,602.66L662.56,607.26M661.46,602.15L661.46,606.75M660.52,601.6L660.52,606.2M659.77,601.02L659.77,605.62M659.21,600.41L659.21,605.01M658.85,599.78L658.85,604.38" style="stroke-width:0.9"/>
<ellipse class="w" cx="674.6" cy="598.2" rx="15.9" ry="5.6"/>
<path class="w" d="M668,590 L668,596.4 A6.6,2.4 0 0 0 681.2,596.4 L681.2,590 A6.6,2.4 0 0 1 668,590 Z"/>
<path class="t" d="M668,592.2 A6.6,2.4 0 0 0 681.2,592.2" style="stroke-width:0.9"/>
<path class="t" d="M668,594.2 A6.6,2.4 0 0 0 681.2,594.2" style="stroke-width:0.9"/>
<path class="w" d="M659,582.6 L662,579.6 L686.8,579.4 L691.2,582.4 L691.2,587.4 L675.6,591.4 L661.9,588.4 L659,587.6 Z"/>
<path class="l" d="M659,582.6 L661.9,583.6 L675.6,586.4 L691.2,582.4 M661.9,583.6 L661.9,588.4 M675.6,586.4 L675.6,591.4" style="stroke-width:0.95"/>
<path class="w" d="M661,572.6 L661,579.6 A13.6,5.2 0 0 0 688.2,579.6 L688.2,572.6 A13.6,5.2 0 0 1 661,572.6 Z"/>
<path class="t" d="M661,575.8 A13.6,5.2 0 0 0 688.2,575.8" style="stroke-width:0.9"/>
<ellipse class="w" cx="674.6" cy="572.6" rx="13.6" ry="5.2"/>
<ellipse class="k" cx="674.6" cy="572.8" rx="10.4" ry="3.8"/>
<ellipse class="w" cx="674.6" cy="573.2" rx="7" ry="2.4" style="stroke:none"/>
<path class="w" d="M671.9,574 L671.9,564 C671.9,561.4 677.3,561.4 677.3,564 L677.3,574 A2.7,1.2 0 0 1 671.9,574 Z" style="stroke-width:0.95"/>
</g>
<g id="p24">
<path class="w" d="M866.6,650 L866.6,665.6 A11.2,3.4 0 0 0 889,665.6 L889,650 A11.2,3.4 0 0 1 866.6,650 Z"/>
<path class="l" d="M866.6,652.6 A11.2,3.4 0 0 0 889,652.6" style="stroke-width:0.85"/>
<path class="l" d="M866.6,655.6 A11.2,3.4 0 0 0 889,655.6" style="stroke-width:0.85"/>
<path class="l" d="M866.6,658.6 A11.2,3.4 0 0 0 889,658.6" style="stroke-width:0.85"/>
<path class="l" d="M866.6,661.6 A11.2,3.4 0 0 0 889,661.6" style="stroke-width:0.85"/>
<path class="w" d="M863.7,626 L867.4,650 A10.6,3 0 0 0 888.2,650 L895.8,624 Z"/>
<path class="w" d="M855.4,626 L855.4,641.5 A4.2,1.6 0 0 0 863.6,641.5 L863.6,626 Z" style="stroke-width:0.95"/>
<path class="t" d="M855.4,634 A4.2,1.6 0 0 0 863.6,634 M859.8,643.4 L859.8,648.4 A1.2,0.8 0 0 0 862,648.4 L862,643.2" style="stroke-width:0.9"/>
<path class="w" d="M852.2,603 C852.6,606 853.6,607 854.4,608 L855.4,626 C860,629.6 870,630.8 879,630.2 C886,629.8 892,627.8 895.8,624.6 L897.6,620 L903.5,604 Z"/>
<path class="w" d="M852.1,582.5 L852.1,601.2 A25.75,8.6 0 0 0 903.6,601.2 L903.6,582.5 Z"/>
<path class="l" d="M852.5,604.8 A25.5,8.6 0 0 0 903.3,604.8"/>
<path class="w" d="M852.1,583 C852.3,578.6 857,574.8 864.7,573 L890.9,573 C898.6,574.8 903.4,578.6 903.6,583 A25.75,9 0 0 1 852.1,583 Z"/>
<path class="w" d="M864.7,563.8 L864.7,579.8 A13.1,4.6 0 0 0 890.9,579.8 L890.9,563.8 A13.1,4.6 0 0 1 864.7,563.8 Z"/>
<path class="t" d="M883.4,568.2 L883.4,584"/>
<ellipse class="w" cx="877.8" cy="563.8" rx="13.1" ry="5.3"/>
<ellipse class="l" cx="877.8" cy="564" rx="11.4" ry="4.3" style="stroke-width:0.9"/>
<ellipse class="t" cx="877.8" cy="564.6" rx="9.6" ry="3.4" style="stroke:#555"/>
<ellipse class="t" cx="877.8" cy="565.2" rx="8" ry="2.6" style="stroke:#555"/>
</g>
<g id="p13">
<path class="w" d="M538,200 L538,229 L539.8,229.6 L539.8,234.4 L548.2,238.4 L551.6,236.6 L551.6,197 Z" style="stroke-width:1"/>
<path class="l" d="M539.8,203 L539.8,229.6 M542.8,202 L542.8,223.4 L548.4,223.4 M548.4,199.5 L548.4,223.4 M544.4,223.4 L544.4,236.4 M547.4,223.4 L547.4,238 M541.4,203 L541.4,218" style="stroke-width:0.85"/>
<ellipse class="w" cx="537.3" cy="231.4" rx="1.7" ry="1.8" style="stroke-width:0.9"/>
<path class="w" d="M548.6,234.8 L551.4,234.2 C552.6,234.4 553.2,235.4 553,236.6 C552.8,237.8 551.8,238.6 550.6,238.6 L548.2,238.6 Z" style="stroke-width:0.9"/>
<ellipse class="w" cx="549.6" cy="236.7" rx="1.5" ry="2" style="stroke-width:0.9"/>
<path class="w" d="M522.8,192 C524,189.6 526.5,187.8 530,187.2 C536,186.2 544,186 550,186.4 C556,186.8 561.5,187.8 565.1,189.6 C566.8,190.6 567.6,191.6 567.5,192.8 L566.6,195.4 C566.2,196.2 565,196.6 563.4,196.6 L551.6,196.6 C548,197.2 545,198.6 542.8,200.2 C540.5,201.4 537.5,201.9 534,201.6 L525.2,199.2 C523.6,198.6 522.8,197.6 522.8,196 Z"/>
<path class="kk" d="M523.4,192.4 C525,190.4 527.5,188.8 530.6,188.2 C536,187.2 544,187 550,187.4 C556,187.8 561,188.8 564.4,190.4 C566,191.2 566.6,192 566.4,192.8 C561,192.4 555,192.4 550,193 C546.5,193.4 544,194.6 541.8,195.6 C539.5,196.6 536.5,196.8 534,196.4 Z" style="fill:#555"/>
<path class="t" d="M533.8,196.6 L533.8,201.4 M526,190.6 L535.5,193 M531.5,188.4 L541.5,191.2 M538.5,187.6 L548,190 M545.5,187.4 L555,189.8 M552.5,187.8 L561,190.4" style="stroke:#ddd;stroke-width:0.6"/>
<path class="t" d="M523.4,192.4 L534,196.4 C536.5,196.8 539.5,196.6 541.8,195.6 C544,194.6 546.5,193.4 550,193 C555,192.4 561,192.4 566.4,192.8"/>
</g>
<g id="p14a">
<path class="w" d="M541.3,270 L541.3,284 C541.3,286.4 547,286.4 547,284 L547,270 Z" style="stroke-width:0.95"/>
<path class="w" d="M538.5,265.6 L538.5,269.6 A5.4,2.1 0 0 0 549.3,269.6 L549.3,265.6 A5.4,2.1 0 0 1 538.5,265.6 Z"/>
<ellipse class="w" cx="543.9" cy="265.6" rx="5.4" ry="2.3"/>
</g>
<ellipse class="l" cx="367.4" cy="417.8" rx="8.7" ry="5.6" transform="rotate(70 367.4 417.8)" style="stroke-width:3.4;stroke:#1d1b1c"/>
<ellipse class="c" cx="205.45" cy="565.75" rx="152.9" ry="134.2" transform="rotate(-30.8 205.45 565.75)"/>
<path class="b" d="M94.2,591 L86.4,585.8 L237.8,491 L245.8,495.6" style="stroke-width:1.1"/>
<g id="p1d">
<path class="w" d="M284.76,524.57 L301.74,514.97 A7.6,4.41 60.5 0 0 294.25,501.74 L277.28,511.34 A7.6,4.41 60.5 0 0 284.76,524.57 Z"/>
<path class="w" d="M286.34,539.53 L292.04,535.39 A20.6,11.95 60.5 0 0 271.75,499.53 L265.26,502.28 A21.4,12.41 60.5 0 0 286.34,539.53 Z"/>
<path class="w" d="M281.82,545.77 L288.19,540.78 A23.4,13.57 60.5 0 0 265.15,500.05 L257.59,502.95 A24.6,14.27 60.5 0 0 281.82,545.77 Z"/>
<path class="l" d="M285.01,543.27 A24,13.92 60.5 0 0 261.37,501.5" style="stroke-width:0.9"/>
<path class="w" d="M277.3,552 L283.83,548.31 A27.8,16.12 60.5 0 0 256.45,499.91 L249.92,503.61 A27.8,16.12 60.5 0 0 277.3,552 Z"/>
<path class="t" d="M279.04,550.84L285.22,547.34M280.51,549.33L286.69,545.83M281.72,547.46L287.89,543.96M282.63,545.27L288.81,541.77M283.24,542.79L289.42,539.3M283.54,540.07L289.72,536.58M283.52,537.15L289.7,533.65M283.18,534.07L289.36,530.57M282.53,530.89L288.71,527.39M281.58,527.65L287.76,524.15M280.34,524.41L286.52,520.91M278.84,521.22L285.02,517.73M277.1,518.14L283.28,514.64M275.14,515.21L281.32,511.72M273,512.48L279.18,508.99M270.71,510L276.89,506.51M268.32,507.81L274.5,504.31M265.85,505.93L272.03,502.43M263.36,504.41L269.54,500.91M260.87,503.26L267.05,499.76M258.44,502.51L264.61,499.01M256.09,502.16L262.27,498.67M253.87,502.23L260.05,498.74M251.81,502.71L257.99,499.22" style="stroke-width:0.9"/>
<path class="w" d="M274.12,554.49 L277.6,552.52 A28.4,16.47 60.5 0 0 249.63,503.08 L246.15,505.05 A28.4,16.47 60.5 0 0 274.12,554.49 Z"/>
<path class="w" d="M244.4,554.76 L273.18,552.84 A26.5,15.37 60.5 0 0 247.08,506.71 L230.61,530.39 A14,8.12 60.5 0 0 244.4,554.76 Z"/>
<path class="l" d="M249.98,554.47 A16.5,9.57 60.5 0 0 233.73,525.75" style="stroke-width:0.9"/>
<path class="l" d="M255.56,554.19 A19,11.02 60.5 0 0 236.85,521.11" style="stroke-width:0.9"/>
<path class="l" d="M261.15,553.9 A21.5,12.47 60.5 0 0 239.97,516.48" style="stroke-width:0.9"/>
<path class="l" d="M267.26,553.54 A24.2,14.04 60.5 0 0 243.43,511.42" style="stroke-width:0.9"/>
<path class="w" d="M242.56,555.57 L245.17,554.09 A13.8,8 60.5 0 0 231.58,530.07 L228.97,531.55 A13.8,8 60.5 0 0 242.56,555.57 Z"/>
<ellipse class="w" cx="235.76" cy="543.56" rx="13.8" ry="8" transform="rotate(60.5 235.76 543.56)"/>
<ellipse class="l" cx="236.11" cy="543.36" rx="11.4" ry="6.61" transform="rotate(60.5 236.11 543.36)" style="stroke-width:0.9"/>
<path class="w" d="M231.9,552.98 L240.61,548.06 A6.3,3.65 60.5 0 0 234.4,537.09 L225.7,542.02 A6.3,3.65 60.5 0 0 231.9,552.98 Z"/>
<ellipse class="w" cx="228.8" cy="547.5" rx="6.3" ry="3.65" transform="rotate(60.5 228.8 547.5)"/>
<ellipse class="l" cx="228.97" cy="547.4" rx="4.4" ry="2.55" transform="rotate(60.5 228.97 547.4)" style="stroke-width:0.8"/>
<ellipse class="t" cx="229.15" cy="547.3" rx="2.6" ry="1.51" transform="rotate(60.5 229.15 547.3)"/>
</g>
<g id="p1c">
<path class="w" d="M191.6,569.8 C195,564.5 199,558.5 204,554.4 C205,553.6 206,553.2 207,553.4 L210.6,555.4 L211.6,554.4 C212.6,553.8 214,554.2 215.2,555.2 C216.6,556.4 217.3,557.6 217,558.6 C216.8,559.6 216.3,560.2 215.7,560.6 L214.2,562 L212.9,563 C212.6,564.6 211.6,566.2 210.3,567.4 C207,569.4 203,570.6 199.2,571 C196.5,571.3 193.8,571.2 191.6,569.8 Z" style="stroke-width:1.1"/>
<path class="l" d="M207,553.4 C209.4,555 211,557.6 211.6,560.4 C212,562.6 211.6,565 210.3,567.4 M211.6,554.4 C213,556 213.8,558.4 213.6,560.4 C213.5,561.4 213.3,562.2 212.9,563 M200.4,561 L205.8,559.2 L207.6,562 M203.8,563 L204.4,566.4" style="stroke-width:0.9"/>
</g>
<g id="p1b">
<path class="w" d="M172.83,593.73 L184.15,587.33 A10,5.8 60.5 0 0 174.3,569.92 L162.99,576.32 A10,5.8 60.5 0 0 172.83,593.73 Z"/>
<path class="l" d="M175.88,592.01 A10,5.8 60.5 0 0 166.03,574.6 M177.73,590.96 A10,5.8 60.5 0 0 167.88,573.55 M179.58,589.91 A10,5.8 60.5 0 0 169.73,572.51 M181.43,588.87 A10,5.8 60.5 0 0 171.58,571.46 M183.28,587.82 A10,5.8 60.5 0 0 173.43,570.41 " style="stroke-width:0.85"/>
<path class="w" d="M170.9,601.49 L176.56,598.29 A15.8,9.16 60.5 0 0 161,570.78 L155.34,573.98 A15.8,9.16 60.5 0 0 170.9,601.49 Z"/>
<path class="t" d="M172.37,600.48L177.6,597.52M173.57,598.91L178.8,595.96M174.36,596.87L179.58,593.92M174.69,594.44L179.91,591.48M174.56,591.72L179.78,588.76M173.97,588.82L179.19,585.86M172.95,585.86L178.17,582.91M171.53,582.98L176.76,580.02M169.79,580.28L175.01,577.32M167.78,577.88L173.01,574.93M165.6,575.88L170.82,572.93M163.34,574.37L168.56,571.42M161.08,573.4L166.3,570.45M158.93,573.02L164.15,570.07M156.96,573.24L162.19,570.29" style="stroke-width:0.9"/>
<path class="w" d="M167.82,604.15 L171.3,602.18 A16.6,9.63 60.5 0 0 154.95,573.29 L151.47,575.26 A16.6,9.63 60.5 0 0 167.82,604.15 Z"/>
<path class="w" d="M153.29,603.87 L167.17,601.99 A14.4,8.35 60.5 0 0 152.99,576.93 L144.23,587.85 A9.2,5.34 60.5 0 0 153.29,603.87 Z"/>
<path class="l" d="M158.63,603.15 A11.2,6.5 60.5 0 0 147.6,583.65" style="stroke-width:0.9"/>
<path class="k" d="M150.93,604.97 L153.19,603.69 A9,5.22 60.5 0 0 144.33,588.03 L142.07,589.31 A9,5.22 60.5 0 0 150.93,604.97 Z"/>
<path class="w" d="M149.96,605.29 L151.01,604.7 A8.8,5.1 60.5 0 0 142.34,589.38 L141.3,589.97 A8.8,5.1 60.5 0 0 149.96,605.29 Z"/>
<path class="k" d="M147.97,606.65 L150.24,605.37 A9,5.22 60.5 0 0 141.37,589.7 L139.11,590.98 A9,5.22 60.5 0 0 147.97,606.65 Z"/>
<path class="w" d="M146.08,607.37 L148.17,606.19 A8.7,5.05 60.5 0 0 139.6,591.05 L137.52,592.23 A8.7,5.05 60.5 0 0 146.08,607.37 Z"/>
<ellipse class="w" cx="141.8" cy="599.8" rx="8.7" ry="5.05" transform="rotate(60.5 141.8 599.8)"/>
<ellipse class="kk" cx="142.06" cy="599.65" rx="1.6" ry="0.93" transform="rotate(60.5 142.06 599.65)"/>
</g>
<g id="p1a">
<path class="w" d="M121.51,626.39 L125.16,624.32 A12.4,7.19 60.5 0 0 112.95,602.74 L109.29,604.81 A12.4,7.19 60.5 0 0 121.51,626.39 Z"/>
<path class="t" d="M122.85,625.42L126.16,623.55M123.83,623.91L127.14,622.04M124.38,621.95L127.69,620.07M124.47,619.63L127.78,617.76M124.08,617.08L127.39,615.21M123.25,614.45L126.55,612.57M122.01,611.86L125.32,609.99M120.43,609.47L123.74,607.6M118.6,607.39L121.91,605.52M116.62,605.75L119.93,603.88M114.59,604.63L117.9,602.76M112.62,604.09L115.93,602.22M110.82,604.16L114.13,602.29" style="stroke-width:0.9"/>
<path class="w" d="M109.29,604.81 L93.2,621.5 L110.1,617.3 L94.2,627.9 L106.4,624.2 L102.2,631.7 L121.51,626.39 A12.4,7.19 60.5 0 0 109.29,604.81 Z"/>
</g>
<g id="p25" transform="translate(872.2 463.4) rotate(-30.3)">
<path class="l" d="M12,-8.6 L73,-8.6 M-1.5,-0.8 L-11.3,-2.6 C-11.8,-7.5 -8.6,-11.8 -3.4,-13.4" style="stroke-width:1.6"/>
<path class="w" d="M12.5,-7.8 L73,-7.8 C78,-7.8 81.7,-3.8 81.7,0.9 C81.7,5.6 78,9.6 73,9.6 L15,9.6 C13.2,9.6 12.2,10.2 10.6,11 C5.5,14.6 -2.6,13.8 -7.4,9.4 C-9.6,7.2 -10.8,4.8 -11.4,2.2 L-2.2,2.4 C-0.6,2.4 -0.2,0.4 -1.6,0 L-11,-1.6 C-10.6,-6.8 -7.6,-10.8 -2.6,-12.6 C2.4,-14 7.4,-11.6 10,-9.2 C10.8,-8.4 11.6,-7.8 12.5,-7.8 Z"/>
<ellipse class="l" cx="72.2" cy="1" rx="4.4" ry="3.1" transform="rotate(92 72.2 1)" style="stroke-width:1"/>
<text transform="translate(19.4 6.8) scale(1.33 1)" style="font-family:'Liberation Sans',sans-serif;font-style:italic;font-weight:bold;font-size:12.6px;fill:#1d1b1c;stroke:#1d1b1c;stroke-width:0.7px;letter-spacing:-0.2px">iwata</text>
</g>
<path class="d" d="M153.3,132.5L153.3,145M153.3,156L153.3,162.5M176.7,185L181.7,187.5M232.5,221.3L241.7,225.8M177.5,224L167.5,229.3M159,234.5L151.7,238.3M151.7,238.3L159.4,243.16M172.2,251.25L181.7,257.25M190.37,262.72L204.47,271.62M217.27,279.71L226.77,285.71M235.44,291.18L249.54,300.09M262.34,308.17L271.84,314.17M280.51,319.64L294.61,328.55M307.41,336.63L316.91,342.63M325.58,348.11L339.68,357.01M352.48,365.09L361.98,371.09M370.65,376.57L384.75,385.47M397.55,393.55L407.05,399.55M415.72,405.03L429.82,413.93M442.62,422.02L452.12,428.02M460.79,433.49L474.89,442.39M487.69,450.48L497.19,456.48M505.86,461.95L519.96,470.86M295,329.3L303.5,324.4M312.7,319L318.5,315.8M427.8,384L419.4,389M404.8,397.2L395,403.4M386.2,408.4L376.6,414M358.4,424.4L348.5,430.4M340.3,435.6L330,441.3M330.7,452.1L340.6,458.5M348.5,464.1L358.4,470.3M343.4,481.6L335,485.9M324.7,492.3L315,498M218.3,554.9L225,551M185.3,573.4L190.6,570.7M127.2,608.3L136.5,603.1M544,241.5L544,253.5M544,369L544,379.5M544,399.8L544,411M544.2,490.8L544.2,502.5M544.2,512.5L544.2,520.8M544.2,605.4L544.2,611M544.2,669.4L544.2,675.6M543.3,696.4L543.3,707.5M674.5,522L674.5,533.3M674.5,548.3L674.5,560M980.8,58.7L984.7,56.7M984.7,56.7L995,63.3M1003.3,68.7L1014.2,74.7M619.2,308.11L634.2,299.32M665.45,281.01L680.45,272.22M647.05,291.79L657.05,285.93M711.7,253.91L726.7,245.11M693.3,264.69L703.3,258.83M757.95,226.8L772.95,218.01M739.55,237.58L749.55,231.72M804.2,199.7L819.2,190.91M785.8,210.48L795.8,204.62M850.45,172.6L865.45,163.81M832.05,183.38L842.05,177.52M896.7,145.5L911.7,136.7M878.3,156.28L888.3,150.42M942.95,118.39L957.95,109.6M924.55,129.17L934.55,123.31M989.2,91.29L1004.2,82.5M970.8,102.07L980.8,96.21M622.7,312.7L633.3,319.3M646.7,326L661.7,335M670,333.3L680,328.3M1030,122.5L1023.3,126.7M1038.3,120L1048,125.8M996.7,143.3L991.7,145.8M720,320.75L721.6,319.83M735,312.17L745,306.45M753.3,301.7L768.3,293.12M781.7,285.46L791.7,279.74M800,274.99L815,266.41M828.4,258.74L838.4,253.02M846.7,248.28L861.7,239.7M875.1,232.03L885.1,226.31M893.4,221.56L908.4,212.98M921.8,205.32L931.8,199.6M940.1,194.85L955.1,186.27M968.5,178.61L978.5,172.89M986.8,168.14L1001.8,159.56M1015.2,151.89L1025.2,146.17M1033.5,141.43L1047,133.7M721.7,322.7L731.7,329.3M740,335L750.5,341M763.3,349.3L776.7,356.7M796.7,370L806.7,376M816,381.7L830,390.4M838.9,396.7L853.3,404.9M860,409.4L864.4,412.2M788.3,362.7L796.7,358.3M809.3,351.7L823.3,344M831.7,339.3L841.7,333.3M864.4,412.2L871.6,408.9M877.3,404.4L892.2,396M917.8,381L927.8,375.6M1008.9,233.3L1016.7,229.3M1022.2,226.7L1032.9,221.1M1042.2,227.1L1050,231.6M1056.7,235.6L1066.7,241.1M1062.2,238.2L1073.3,232.9M1076.7,246.7L1084.4,251.1M1090,254.4L1101,260.4M1106.2,266.7L1098.9,271.1M506.7,336.7L510.8,334.7M525,326.7L538.3,319.2M547.5,313L556.7,308.3M570.8,300L585,292M595,285.8L603.3,281.3M628.3,265L640,259.3M750,196.7L755.6,193.3M816.7,158.2L821,155.6M825.6,153.3L831,150M892.2,112.2L902.2,106.7M636.7,513.7L628.3,518.7M620.8,523L610,528.7M597.5,520L583,510.8M574.7,505.5L564.7,499.2M773.8,538L778.8,537M788.8,535L805,532M820,529.5L831.3,527.5M841.3,525.5L857.5,523M872.5,520L876.3,519.5M876.3,519.5L876.3,526.3M876.3,537.5L876.3,550M773.8,538L774,545M774.5,558.8L775,576.3M775.8,587.5L776.3,598.8M776.8,613.8L777.5,630M777.8,642.5L778.3,652.5M778.3,667.5L778.3,670M551.4,706.7L568.4,703.92M583.4,701.47L595.3,699.53M604.4,698.04L621.4,695.26M636.4,692.81L648.3,690.87M657.4,689.38L674.4,686.6M689.4,684.15L701.3,682.21M710.4,680.72L727.4,677.94M742.4,675.49L754.3,673.55M763.4,672.06L778.4,669.61"/>
<g id="labels">
<text transform="translate(205 21.36) scale(0.81 1)" style="font-size:13.8px">16C</text>
<text transform="translate(66.85 67.89) scale(0.86 1)">18</text>
<text transform="translate(219.73 129.61) scale(0.97 1)" style="font-size:13.8px">20</text>
<text transform="translate(188.49 166.51) scale(0.85 1)" style="font-size:13.8px">20A</text>
<text transform="translate(115.25 201.41) scale(0.87 1)" style="font-size:13.8px">19</text>
<text transform="translate(278.62 112.35) scale(0.78 1)">3A</text>
<text transform="translate(281.84 258.15) scale(0.87 1)">17</text>
<text transform="translate(436.88 174.59) scale(0.84 1)">16A</text>
<text transform="translate(376.09 321.35) scale(0.88 1)">3B</text>
<text transform="translate(493.12 184.65) scale(0.89 1)">13</text>
<text transform="translate(501 262.45) scale(0.82 1)">14A</text>
<text transform="translate(580.99 259.75) scale(0.89 1)">4</text>
<text transform="translate(673.57 207.39) scale(0.84 1)">5</text>
<text transform="translate(494.32 394.45) scale(0.79 1)">3C</text>
<text transform="translate(567.15 402.45) scale(0.86 1)">14B</text>
<text transform="translate(755.32 155.19) scale(0.82 1)">6</text>
<text transform="translate(833.97 112.65) scale(0.95 1)">7</text>
<text transform="translate(915.74 66.29) scale(0.89 1)">8</text>
<text transform="translate(976.03 122.79) scale(0.89 1)">10</text>
<text transform="translate(821.87 220.59) scale(0.97 1)">9</text>
<text transform="translate(950.95 207.55) scale(0.86 1)">11A</text>
<text transform="translate(1099.27 171.35) scale(0.95 1)">12</text>
<text transform="translate(1104.22 332.65) scale(0.9 1)">11B</text>
<text transform="translate(867.93 367.55) scale(0.86 1)">21</text>
<text transform="translate(946.71 456.29) scale(0.9 1)">25</text>
<text transform="translate(738.25 374.59) scale(0.87 1)">16B</text>
<text transform="translate(792.59 469.15) scale(0.89 1)">3D</text>
<text transform="translate(695.71 553.55) scale(0.89 1)">23</text>
<text transform="translate(704.09 601.95) scale(0.94 1)">22</text>
<text transform="translate(912.7 628.55) scale(0.92 1)">24</text>
<text transform="translate(574.36 461.79) scale(0.86 1)">15A</text>
<text transform="translate(483.72 558.49) scale(0.9 1)">15</text>
<text transform="translate(564.95 576.59) scale(0.86 1)">15B</text>
<text transform="translate(564.99 649.29) scale(0.82 1)">15C</text>
<text transform="translate(565.74 694.59) scale(0.88 1)">15D</text>
<text transform="translate(333.67 404.75) scale(0.97 1)">2</text>
<text transform="translate(154.97 525.55) scale(0.85 1)">1</text>
<text transform="translate(129.55 647.35) scale(0.86 1)">1A</text>
<text transform="translate(182.31 623.35) scale(0.9 1)">1B</text>
<text transform="translate(225.23 597.39) scale(0.79 1)">1C</text>
<text transform="translate(289.12 569.55) scale(0.9 1)">1D</text>
</g>
<g id="leaders">
<line class="ld" x1="194.75" y1="22.25" x2="204" y2="17.25"/>
<line class="ld" x1="298" y1="114.5" x2="306.7" y2="119.5"/>
<line class="ld" x1="168.7" y1="145.8" x2="187.5" y2="155"/>
<line class="ld" x1="143.7" y1="181.2" x2="132.8" y2="190.8"/>
<line class="ld" x1="269" y1="245.8" x2="278.3" y2="250.8"/>
<line class="ld" x1="427.5" y1="177.5" x2="435.8" y2="173.3"/>
<line class="ld" x1="364.4" y1="307.3" x2="372.7" y2="312.7"/>
<line class="ld" x1="510" y1="186.2" x2="519.6" y2="191.6"/>
<line class="ld" x1="527.8" y1="262.2" x2="536.7" y2="266.7"/>
<line class="ld" x1="593.8" y1="261.8" x2="602.7" y2="266.7"/>
<line class="ld" x1="684.9" y1="208.4" x2="693.8" y2="212.9"/>
<line class="ld" x1="482.2" y1="380.7" x2="491" y2="385.6"/>
<line class="ld" x1="556.7" y1="389.6" x2="565.6" y2="394.4"/>
<line class="ld" x1="766.2" y1="155.6" x2="774.9" y2="160.4"/>
<line class="ld" x1="846.2" y1="111.8" x2="855" y2="117"/>
<line class="ld" x1="926.7" y1="64.4" x2="935.6" y2="69.3"/>
<line class="ld" x1="993.3" y1="122.7" x2="1001.8" y2="127"/>
<line class="ld" x1="836.7" y1="220.7" x2="845.6" y2="226"/>
<line class="ld" x1="978.2" y1="208.9" x2="986.7" y2="214.4"/>
<line class="ld" x1="1117" y1="170.4" x2="1125.6" y2="175.5"/>
<line class="ld" x1="1090" y1="314" x2="1099.3" y2="319.6"/>
<line class="ld" x1="886" y1="368.2" x2="894.4" y2="373.3"/>
<line class="ld" x1="936" y1="443.8" x2="944.4" y2="448.4"/>
<line class="ld" x1="730" y1="375.6" x2="738.4" y2="371.6"/>
<line class="ld" x1="780" y1="454.4" x2="788.9" y2="459.6"/>
<line class="ld" x1="685.6" y1="542.9" x2="694" y2="547"/>
<line class="ld" x1="692.9" y1="588.9" x2="701.8" y2="594"/>
<line class="ld" x1="902" y1="615.5" x2="910.5" y2="620"/>
<line class="ld" x1="562.7" y1="449.6" x2="571.8" y2="454.4"/>
<line class="ld" x1="553.3" y1="563.6" x2="562.2" y2="568.6"/>
<line class="ld" x1="553.3" y1="638" x2="562.2" y2="643"/>
<line class="ld" x1="554.7" y1="683.9" x2="564.2" y2="688.9"/>
<line class="ld" x1="345" y1="403.3" x2="353.3" y2="408.3"/>
<line class="ld" x1="164.4" y1="524.4" x2="173.3" y2="528.9"/>
<line class="ld" x1="122.6" y1="629.4" x2="130.5" y2="634.1"/>
<line class="ld" x1="175.4" y1="605" x2="183.3" y2="609.7"/>
<line class="ld" x1="209" y1="573.4" x2="225" y2="582"/>
<line class="ld" x1="281.9" y1="552.5" x2="290.6" y2="557.5"/>
</g>
</svg>
</body></html>
